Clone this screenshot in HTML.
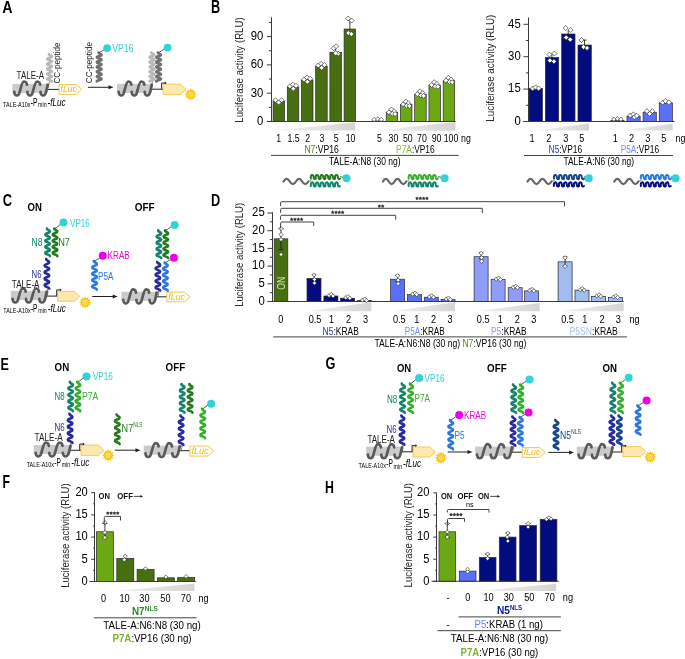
<!DOCTYPE html>
<html><head><meta charset="utf-8"><style>
html,body{margin:0;padding:0;background:#fff;}
svg{display:block;will-change:transform;}
text{font-family:"Liberation Sans",sans-serif;}
</style></head><body>
<svg width="685" height="659" viewBox="0 0 685 659">
<rect width="685" height="659" fill="#fff"/>
<text x="2.3" y="13.3" font-size="17.2" fill="#000" font-weight="bold" textLength="10.3" lengthAdjust="spacingAndGlyphs">A</text>
<text x="210.9" y="12.7" font-size="17.6" fill="#000" font-weight="bold" textLength="9.2" lengthAdjust="spacingAndGlyphs">B</text>
<text x="2.7" y="205.6" font-size="16.8" fill="#000" font-weight="bold" textLength="9.3" lengthAdjust="spacingAndGlyphs">C</text>
<text x="210.9" y="205.9" font-size="17" fill="#000" font-weight="bold" textLength="9.2" lengthAdjust="spacingAndGlyphs">D</text>
<text x="0.4" y="369.6" font-size="17" fill="#000" font-weight="bold" textLength="8.4" lengthAdjust="spacingAndGlyphs">E</text>
<text x="2.6" y="487.7" font-size="17.8" fill="#000" font-weight="bold" textLength="7.5" lengthAdjust="spacingAndGlyphs">F</text>
<text x="325.4" y="369.2" font-size="16.8" fill="#000" font-weight="bold" textLength="9.9" lengthAdjust="spacingAndGlyphs">G</text>
<text x="325.1" y="492.9" font-size="16.8" fill="#000" font-weight="bold" textLength="8.9" lengthAdjust="spacingAndGlyphs">H</text>
<line x1="271.5" y1="17.3" x2="271.5" y2="122" stroke="#3a3a3a" stroke-width="1"/>
<line x1="266.9" y1="121.5" x2="271.5" y2="121.5" stroke="#3a3a3a" stroke-width="1"/>
<text x="263.4" y="124.8" font-size="12.39" text-anchor="end" textLength="6.3" lengthAdjust="spacingAndGlyphs">0</text>
<line x1="266.9" y1="93.2" x2="271.5" y2="93.2" stroke="#3a3a3a" stroke-width="1"/>
<text x="263.4" y="96.5" font-size="12.39" text-anchor="end" textLength="12.6" lengthAdjust="spacingAndGlyphs">30</text>
<line x1="266.9" y1="64.9" x2="271.5" y2="64.9" stroke="#3a3a3a" stroke-width="1"/>
<text x="263.4" y="68.2" font-size="12.39" text-anchor="end" textLength="12.6" lengthAdjust="spacingAndGlyphs">60</text>
<line x1="266.9" y1="36.6" x2="271.5" y2="36.6" stroke="#3a3a3a" stroke-width="1"/>
<text x="263.4" y="39.9" font-size="12.39" text-anchor="end" textLength="12.6" lengthAdjust="spacingAndGlyphs">90</text>
<line x1="268.9" y1="107.35" x2="271.5" y2="107.35" stroke="#3a3a3a" stroke-width="1"/>
<line x1="268.9" y1="79.05" x2="271.5" y2="79.05" stroke="#3a3a3a" stroke-width="1"/>
<line x1="268.9" y1="50.75" x2="271.5" y2="50.75" stroke="#3a3a3a" stroke-width="1"/>
<line x1="268.9" y1="22.45" x2="271.5" y2="22.45" stroke="#3a3a3a" stroke-width="1"/>
<linearGradient id="wg1" x1="0" x2="1" y1="0" y2="0"><stop offset="0" stop-color="#f2f2f2"/><stop offset="1" stop-color="#d4d4d4"/></linearGradient>
<polygon points="274.5,130.6 355.2,122.3 355.2,130.6" fill="url(#wg1)" stroke="none" stroke-width="1"/>
<linearGradient id="wg2" x1="0" x2="1" y1="0" y2="0"><stop offset="0" stop-color="#f2f2f2"/><stop offset="1" stop-color="#d4d4d4"/></linearGradient>
<polygon points="375,130.8 455.5,121.9 455.5,130.8" fill="url(#wg2)" stroke="none" stroke-width="1"/>
<rect x="273.1" y="101.12" width="11.5" height="20.38" fill="#486e12" stroke="#2a2a2a" stroke-width="0.7"/>
<rect x="287.3" y="87.07" width="11.5" height="34.43" fill="#486e12" stroke="#2a2a2a" stroke-width="0.7"/>
<rect x="301.5" y="80.09" width="11.5" height="41.41" fill="#486e12" stroke="#2a2a2a" stroke-width="0.7"/>
<rect x="315.7" y="66.22" width="11.5" height="55.28" fill="#486e12" stroke="#2a2a2a" stroke-width="0.7"/>
<rect x="329.9" y="52.26" width="11.5" height="69.24" fill="#486e12" stroke="#2a2a2a" stroke-width="0.7"/>
<rect x="344.1" y="29.05" width="11.5" height="92.45" fill="#486e12" stroke="#2a2a2a" stroke-width="0.7"/>
<rect x="371.95" y="121.03" width="11.5" height="0.47" fill="#6ca816" stroke="#2a2a2a" stroke-width="0.7"/>
<rect x="386.2" y="112.54" width="11.5" height="8.96" fill="#6ca816" stroke="#2a2a2a" stroke-width="0.7"/>
<rect x="400.45" y="104.52" width="11.5" height="16.98" fill="#6ca816" stroke="#2a2a2a" stroke-width="0.7"/>
<rect x="414.7" y="94.33" width="11.5" height="27.17" fill="#6ca816" stroke="#2a2a2a" stroke-width="0.7"/>
<rect x="428.95" y="85.18" width="11.5" height="36.32" fill="#6ca816" stroke="#2a2a2a" stroke-width="0.7"/>
<rect x="443.2" y="80.75" width="11.5" height="40.75" fill="#6ca816" stroke="#2a2a2a" stroke-width="0.7"/>
<line x1="271.5" y1="121.5" x2="455.6" y2="121.5" stroke="#3a3a3a" stroke-width="1.1"/>
<polygon points="275.55,97.72 278.05,100.22 275.55,102.72 273.05,100.22" fill="#fff" stroke="#222" stroke-width="0.6"/>
<polygon points="278.65,99.92 281.15,102.42 278.65,104.92 276.15,102.42" fill="#fff" stroke="#222" stroke-width="0.6"/>
<polygon points="281.65,97.72 284.15,100.22 281.65,102.72 279.15,100.22" fill="#fff" stroke="#222" stroke-width="0.6"/>
<polygon points="289.85,83.87 292.35,86.37 289.85,88.87 287.35,86.37" fill="#fff" stroke="#222" stroke-width="0.6"/>
<polygon points="292.75,82.07 295.25,84.57 292.75,87.07 290.25,84.57" fill="#fff" stroke="#222" stroke-width="0.6"/>
<polygon points="296.05,83.27 298.55,85.77 296.05,88.27 293.55,85.77" fill="#fff" stroke="#222" stroke-width="0.6"/>
<polygon points="293.25,86.17 295.75,88.67 293.25,91.17 290.75,88.67" fill="#fff" stroke="#222" stroke-width="0.6"/>
<polygon points="304.05,76.89 306.55,79.39 304.05,81.89 301.55,79.39" fill="#fff" stroke="#222" stroke-width="0.6"/>
<polygon points="306.95,75.09 309.45,77.59 306.95,80.09 304.45,77.59" fill="#fff" stroke="#222" stroke-width="0.6"/>
<polygon points="310.25,76.29 312.75,78.79 310.25,81.29 307.75,78.79" fill="#fff" stroke="#222" stroke-width="0.6"/>
<polygon points="307.45,79.19 309.95,81.69 307.45,84.19 304.95,81.69" fill="#fff" stroke="#222" stroke-width="0.6"/>
<polygon points="318.25,63.02 320.75,65.52 318.25,68.02 315.75,65.52" fill="#fff" stroke="#222" stroke-width="0.6"/>
<polygon points="321.15,61.22 323.65,63.72 321.15,66.22 318.65,63.72" fill="#fff" stroke="#222" stroke-width="0.6"/>
<polygon points="324.45,62.42 326.95,64.92 324.45,67.42 321.95,64.92" fill="#fff" stroke="#222" stroke-width="0.6"/>
<polygon points="321.65,65.32 324.15,67.82 321.65,70.32 319.15,67.82" fill="#fff" stroke="#222" stroke-width="0.6"/>
<line x1="335.65" y1="47.26" x2="335.65" y2="52.26" stroke="#111" stroke-width="0.8"/>
<line x1="335.65" y1="47.26" x2="335.65" y2="47.26" stroke="#111" stroke-width="0.8"/>
<line x1="335.65" y1="52.26" x2="335.65" y2="52.26" stroke="#111" stroke-width="0.8"/>
<polygon points="333.65,45.76 336.15,48.26 333.65,50.76 331.15,48.26" fill="#fff" stroke="#222" stroke-width="0.6"/>
<polygon points="336.15,43.76 338.65,46.26 336.15,48.76 333.65,46.26" fill="#fff" stroke="#222" stroke-width="0.6"/>
<polygon points="338.15,51.26 340.65,53.76 338.15,56.26 335.65,53.76" fill="#fff" stroke="#222" stroke-width="0.6"/>
<polygon points="335.65,50.76 338.15,53.26 335.65,55.76 333.15,53.26" fill="#fff" stroke="#222" stroke-width="0.6"/>
<line x1="349.85" y1="20.05" x2="349.85" y2="29.05" stroke="#111" stroke-width="0.8"/>
<line x1="349.85" y1="20.05" x2="349.85" y2="20.05" stroke="#111" stroke-width="0.8"/>
<line x1="349.85" y1="29.05" x2="349.85" y2="29.05" stroke="#111" stroke-width="0.8"/>
<polygon points="348.05,16.05 350.55,18.55 348.05,21.05 345.55,18.55" fill="#fff" stroke="#222" stroke-width="0.6"/>
<polygon points="351.65,18.05 354.15,20.55 351.65,23.05 349.15,20.55" fill="#fff" stroke="#222" stroke-width="0.6"/>
<polygon points="348.35,30.55 350.85,33.05 348.35,35.55 345.85,33.05" fill="#fff" stroke="#222" stroke-width="0.6"/>
<polygon points="351.35,31.55 353.85,34.05 351.35,36.55 348.85,34.05" fill="#fff" stroke="#222" stroke-width="0.6"/>
<polygon points="374.2,117.33 376.4,119.53 374.2,121.73 372,119.53" fill="#fff" stroke="#222" stroke-width="0.6"/>
<polygon points="377.7,116.83 379.9,119.03 377.7,121.23 375.5,119.03" fill="#fff" stroke="#222" stroke-width="0.6"/>
<polygon points="381.2,117.33 383.4,119.53 381.2,121.73 379,119.53" fill="#fff" stroke="#222" stroke-width="0.6"/>
<polygon points="388.95,109.84 391.45,112.34 388.95,114.84 386.45,112.34" fill="#fff" stroke="#222" stroke-width="0.6"/>
<polygon points="391.45,107.04 393.95,109.54 391.45,112.04 388.95,109.54" fill="#fff" stroke="#222" stroke-width="0.6"/>
<polygon points="394.15,108.84 396.65,111.34 394.15,113.84 391.65,111.34" fill="#fff" stroke="#222" stroke-width="0.6"/>
<polygon points="392.45,111.24 394.95,113.74 392.45,116.24 389.95,113.74" fill="#fff" stroke="#222" stroke-width="0.6"/>
<polygon points="395.15,111.54 397.65,114.04 395.15,116.54 392.65,114.04" fill="#fff" stroke="#222" stroke-width="0.6"/>
<polygon points="403.2,101.82 405.7,104.32 403.2,106.82 400.7,104.32" fill="#fff" stroke="#222" stroke-width="0.6"/>
<polygon points="405.7,99.02 408.2,101.52 405.7,104.02 403.2,101.52" fill="#fff" stroke="#222" stroke-width="0.6"/>
<polygon points="408.4,100.82 410.9,103.32 408.4,105.82 405.9,103.32" fill="#fff" stroke="#222" stroke-width="0.6"/>
<polygon points="406.7,103.22 409.2,105.72 406.7,108.22 404.2,105.72" fill="#fff" stroke="#222" stroke-width="0.6"/>
<polygon points="409.4,103.52 411.9,106.02 409.4,108.52 406.9,106.02" fill="#fff" stroke="#222" stroke-width="0.6"/>
<polygon points="417.45,91.63 419.95,94.13 417.45,96.63 414.95,94.13" fill="#fff" stroke="#222" stroke-width="0.6"/>
<polygon points="419.95,88.83 422.45,91.33 419.95,93.83 417.45,91.33" fill="#fff" stroke="#222" stroke-width="0.6"/>
<polygon points="422.65,90.63 425.15,93.13 422.65,95.63 420.15,93.13" fill="#fff" stroke="#222" stroke-width="0.6"/>
<polygon points="420.95,93.03 423.45,95.53 420.95,98.03 418.45,95.53" fill="#fff" stroke="#222" stroke-width="0.6"/>
<polygon points="423.65,93.33 426.15,95.83 423.65,98.33 421.15,95.83" fill="#fff" stroke="#222" stroke-width="0.6"/>
<polygon points="431.7,82.48 434.2,84.98 431.7,87.48 429.2,84.98" fill="#fff" stroke="#222" stroke-width="0.6"/>
<polygon points="434.2,79.68 436.7,82.18 434.2,84.68 431.7,82.18" fill="#fff" stroke="#222" stroke-width="0.6"/>
<polygon points="436.9,81.48 439.4,83.98 436.9,86.48 434.4,83.98" fill="#fff" stroke="#222" stroke-width="0.6"/>
<polygon points="435.2,83.88 437.7,86.38 435.2,88.88 432.7,86.38" fill="#fff" stroke="#222" stroke-width="0.6"/>
<polygon points="437.9,84.18 440.4,86.68 437.9,89.18 435.4,86.68" fill="#fff" stroke="#222" stroke-width="0.6"/>
<polygon points="445.95,78.05 448.45,80.55 445.95,83.05 443.45,80.55" fill="#fff" stroke="#222" stroke-width="0.6"/>
<polygon points="448.45,75.25 450.95,77.75 448.45,80.25 445.95,77.75" fill="#fff" stroke="#222" stroke-width="0.6"/>
<polygon points="451.15,77.05 453.65,79.55 451.15,82.05 448.65,79.55" fill="#fff" stroke="#222" stroke-width="0.6"/>
<polygon points="449.45,79.45 451.95,81.95 449.45,84.45 446.95,81.95" fill="#fff" stroke="#222" stroke-width="0.6"/>
<polygon points="452.15,79.75 454.65,82.25 452.15,84.75 449.65,82.25" fill="#fff" stroke="#222" stroke-width="0.6"/>
<text x="278.6" y="141.9" font-size="10.2" text-anchor="middle" textLength="4.88" lengthAdjust="spacingAndGlyphs">1</text>
<text x="293.6" y="141.9" font-size="10.2" text-anchor="middle" textLength="12.19" lengthAdjust="spacingAndGlyphs">1.5</text>
<text x="307.8" y="141.9" font-size="10.2" text-anchor="middle" textLength="4.88" lengthAdjust="spacingAndGlyphs">2</text>
<text x="322" y="141.9" font-size="10.2" text-anchor="middle" textLength="4.88" lengthAdjust="spacingAndGlyphs">3</text>
<text x="336.2" y="141.9" font-size="10.2" text-anchor="middle" textLength="4.88" lengthAdjust="spacingAndGlyphs">5</text>
<text x="350.6" y="141.9" font-size="10.2" text-anchor="middle" textLength="9.76" lengthAdjust="spacingAndGlyphs">10</text>
<text x="379.4" y="141.9" font-size="10.2" text-anchor="middle" textLength="4.88" lengthAdjust="spacingAndGlyphs">5</text>
<text x="393.4" y="141.9" font-size="10.2" text-anchor="middle" textLength="9.76" lengthAdjust="spacingAndGlyphs">30</text>
<text x="407.8" y="141.9" font-size="10.2" text-anchor="middle" textLength="9.76" lengthAdjust="spacingAndGlyphs">50</text>
<text x="421.9" y="141.9" font-size="10.2" text-anchor="middle" textLength="9.76" lengthAdjust="spacingAndGlyphs">70</text>
<text x="436.6" y="141.9" font-size="10.2" text-anchor="middle" textLength="9.76" lengthAdjust="spacingAndGlyphs">90</text>
<text x="451" y="141.9" font-size="10.2" text-anchor="middle" textLength="14.64" lengthAdjust="spacingAndGlyphs">100</text>
<text x="466" y="141.9" font-size="10.2" text-anchor="middle" textLength="9.76" lengthAdjust="spacingAndGlyphs">ng</text>
<text transform="translate(304.4 153.2) scale(0.8401 1)" font-size="10.2"><tspan fill="#5a8a1e">N7</tspan><tspan>:VP16</tspan></text>
<text transform="translate(396.1 153.2) scale(0.8201 1)" font-size="10.2"><tspan fill="#80b840">P7A</tspan><tspan>:VP16</tspan></text>
<line x1="271" y1="155.4" x2="458.6" y2="155.4" stroke="#444" stroke-width="1"/>
<text x="329" y="164.8" font-size="10.2" textLength="71.5" lengthAdjust="spacingAndGlyphs">TALE-A:N8 (30 ng)</text>
<text x="243.4" y="70" font-size="10.4" fill="#2a2a2a" text-anchor="middle" textLength="105.5" lengthAdjust="spacingAndGlyphs" transform="rotate(-90 243.4 70)">Luciferase activity (RLU)</text>
<line x1="528.5" y1="17.5" x2="528.5" y2="122" stroke="#3a3a3a" stroke-width="1"/>
<line x1="523.5" y1="121.5" x2="528.5" y2="121.5" stroke="#3a3a3a" stroke-width="1"/>
<text x="520.7" y="124.8" font-size="12.39" text-anchor="end" textLength="6.3" lengthAdjust="spacingAndGlyphs">0</text>
<line x1="523.5" y1="89.1" x2="528.5" y2="89.1" stroke="#3a3a3a" stroke-width="1"/>
<text x="520.7" y="92.4" font-size="12.39" text-anchor="end" textLength="12.6" lengthAdjust="spacingAndGlyphs">15</text>
<line x1="523.5" y1="56.7" x2="528.5" y2="56.7" stroke="#3a3a3a" stroke-width="1"/>
<text x="520.7" y="60" font-size="12.39" text-anchor="end" textLength="12.6" lengthAdjust="spacingAndGlyphs">30</text>
<line x1="523.5" y1="24.3" x2="528.5" y2="24.3" stroke="#3a3a3a" stroke-width="1"/>
<text x="520.7" y="27.6" font-size="12.39" text-anchor="end" textLength="12.6" lengthAdjust="spacingAndGlyphs">45</text>
<line x1="525.9" y1="105.3" x2="528.5" y2="105.3" stroke="#3a3a3a" stroke-width="1"/>
<line x1="525.9" y1="72.9" x2="528.5" y2="72.9" stroke="#3a3a3a" stroke-width="1"/>
<line x1="525.9" y1="40.5" x2="528.5" y2="40.5" stroke="#3a3a3a" stroke-width="1"/>
<linearGradient id="wg3" x1="0" x2="1" y1="0" y2="0"><stop offset="0" stop-color="#f2f2f2"/><stop offset="1" stop-color="#d4d4d4"/></linearGradient>
<polygon points="536.5,130.4 589,123.4 589,130.4" fill="url(#wg3)" stroke="none" stroke-width="1"/>
<linearGradient id="wg4" x1="0" x2="1" y1="0" y2="0"><stop offset="0" stop-color="#f2f2f2"/><stop offset="1" stop-color="#d4d4d4"/></linearGradient>
<polygon points="620,130.4 672.6,123.8 672.6,130.4" fill="url(#wg4)" stroke="none" stroke-width="1"/>
<rect x="529.1" y="88.45" width="13.3" height="33.05" fill="#020c7e" stroke="#2a2a2a" stroke-width="0.7"/>
<rect x="545.4" y="57.56" width="13.3" height="63.94" fill="#020c7e" stroke="#2a2a2a" stroke-width="0.7"/>
<rect x="561.7" y="34.02" width="13.3" height="87.48" fill="#020c7e" stroke="#2a2a2a" stroke-width="0.7"/>
<rect x="578" y="45.04" width="13.3" height="76.46" fill="#020c7e" stroke="#2a2a2a" stroke-width="0.7"/>
<rect x="610.8" y="120.42" width="13.2" height="1.08" fill="#5a70fa" stroke="#2a2a2a" stroke-width="0.7"/>
<rect x="626.95" y="116.53" width="13.2" height="4.97" fill="#5a70fa" stroke="#2a2a2a" stroke-width="0.7"/>
<rect x="643.1" y="112.21" width="13.2" height="9.29" fill="#5a70fa" stroke="#2a2a2a" stroke-width="0.7"/>
<rect x="659.25" y="102.92" width="13.2" height="18.58" fill="#5a70fa" stroke="#2a2a2a" stroke-width="0.7"/>
<line x1="523.4" y1="121.5" x2="674.4" y2="121.5" stroke="#3a3a3a" stroke-width="1.1"/>
<polygon points="532.6,85.95 535.1,88.45 532.6,90.95 530.1,88.45" fill="#fff" stroke="#222" stroke-width="0.6"/>
<polygon points="535.6,84.95 538.1,87.45 535.6,89.95 533.1,87.45" fill="#fff" stroke="#222" stroke-width="0.6"/>
<polygon points="538.6,85.95 541.1,88.45 538.6,90.95 536.1,88.45" fill="#fff" stroke="#222" stroke-width="0.6"/>
<line x1="551.9" y1="53.56" x2="551.9" y2="60.56" stroke="#111" stroke-width="0.8"/>
<line x1="551.9" y1="53.56" x2="551.9" y2="53.56" stroke="#111" stroke-width="0.8"/>
<line x1="551.9" y1="60.56" x2="551.9" y2="60.56" stroke="#111" stroke-width="0.8"/>
<polygon points="549.4,52.06 551.9,54.56 549.4,57.06 546.9,54.56" fill="#fff" stroke="#222" stroke-width="0.6"/>
<polygon points="554.4,51.06 556.9,53.56 554.4,56.06 551.9,53.56" fill="#fff" stroke="#222" stroke-width="0.6"/>
<polygon points="549.9,58.06 552.4,60.56 549.9,63.06 547.4,60.56" fill="#fff" stroke="#222" stroke-width="0.6"/>
<polygon points="553.9,59.06 556.4,61.56 553.9,64.06 551.4,61.56" fill="#fff" stroke="#222" stroke-width="0.6"/>
<line x1="568.2" y1="30.02" x2="568.2" y2="37.02" stroke="#111" stroke-width="0.8"/>
<line x1="568.2" y1="30.02" x2="568.2" y2="30.02" stroke="#111" stroke-width="0.8"/>
<line x1="568.2" y1="37.02" x2="568.2" y2="37.02" stroke="#111" stroke-width="0.8"/>
<polygon points="565.7,25.52 568.2,28.02 565.7,30.52 563.2,28.02" fill="#fff" stroke="#222" stroke-width="0.6"/>
<polygon points="570.7,27.52 573.2,30.02 570.7,32.52 568.2,30.02" fill="#fff" stroke="#222" stroke-width="0.6"/>
<polygon points="566.2,35.02 568.7,37.52 566.2,40.02 563.7,37.52" fill="#fff" stroke="#222" stroke-width="0.6"/>
<polygon points="570.2,37.02 572.7,39.52 570.2,42.02 567.7,39.52" fill="#fff" stroke="#222" stroke-width="0.6"/>
<line x1="584.5" y1="40.04" x2="584.5" y2="48.04" stroke="#111" stroke-width="0.8"/>
<line x1="582.5" y1="40.04" x2="586.5" y2="40.04" stroke="#111" stroke-width="0.8"/>
<line x1="582.5" y1="48.04" x2="586.5" y2="48.04" stroke="#111" stroke-width="0.8"/>
<polygon points="581.5,37.54 584,40.04 581.5,42.54 579,40.04" fill="#fff" stroke="#222" stroke-width="0.6"/>
<polygon points="583.5,44.54 586,47.04 583.5,49.54 581,47.04" fill="#fff" stroke="#222" stroke-width="0.6"/>
<polygon points="587,45.54 589.5,48.04 587,50.54 584.5,48.04" fill="#fff" stroke="#222" stroke-width="0.6"/>
<polygon points="613.9,117.02 616.1,119.22 613.9,121.42 611.7,119.22" fill="#fff" stroke="#222" stroke-width="0.6"/>
<polygon points="617.4,116.62 619.6,118.82 617.4,121.02 615.2,118.82" fill="#fff" stroke="#222" stroke-width="0.6"/>
<polygon points="620.9,117.02 623.1,119.22 620.9,121.42 618.7,119.22" fill="#fff" stroke="#222" stroke-width="0.6"/>
<polygon points="630.35,113.03 632.85,115.53 630.35,118.03 627.85,115.53" fill="#fff" stroke="#222" stroke-width="0.6"/>
<polygon points="633.35,111.83 635.85,114.33 633.35,116.83 630.85,114.33" fill="#fff" stroke="#222" stroke-width="0.6"/>
<polygon points="634.35,114.63 636.85,117.13 634.35,119.63 631.85,117.13" fill="#fff" stroke="#222" stroke-width="0.6"/>
<polygon points="636.75,113.23 639.25,115.73 636.75,118.23 634.25,115.73" fill="#fff" stroke="#222" stroke-width="0.6"/>
<polygon points="646.9,108.71 649.4,111.21 646.9,113.71 644.4,111.21" fill="#fff" stroke="#222" stroke-width="0.6"/>
<polygon points="652.3,108.71 654.8,111.21 652.3,113.71 649.8,111.21" fill="#fff" stroke="#222" stroke-width="0.6"/>
<polygon points="649.7,111.31 652.2,113.81 649.7,116.31 647.2,113.81" fill="#fff" stroke="#222" stroke-width="0.6"/>
<polygon points="662.65,100.12 665.15,102.62 662.65,105.12 660.15,102.62" fill="#fff" stroke="#222" stroke-width="0.6"/>
<polygon points="665.65,98.62 668.15,101.12 665.65,103.62 663.15,101.12" fill="#fff" stroke="#222" stroke-width="0.6"/>
<polygon points="668.85,99.92 671.35,102.42 668.85,104.92 666.35,102.42" fill="#fff" stroke="#222" stroke-width="0.6"/>
<text x="532.1" y="141.9" font-size="10.2" text-anchor="middle" textLength="5.11" lengthAdjust="spacingAndGlyphs">1</text>
<text x="548.9" y="141.9" font-size="10.2" text-anchor="middle" textLength="5.11" lengthAdjust="spacingAndGlyphs">2</text>
<text x="565.7" y="141.9" font-size="10.2" text-anchor="middle" textLength="5.11" lengthAdjust="spacingAndGlyphs">3</text>
<text x="581.8" y="141.9" font-size="10.2" text-anchor="middle" textLength="5.11" lengthAdjust="spacingAndGlyphs">5</text>
<text x="615.3" y="141.9" font-size="10.2" text-anchor="middle" textLength="5.11" lengthAdjust="spacingAndGlyphs">1</text>
<text x="631.5" y="141.9" font-size="10.2" text-anchor="middle" textLength="5.11" lengthAdjust="spacingAndGlyphs">2</text>
<text x="647.9" y="141.9" font-size="10.2" text-anchor="middle" textLength="5.11" lengthAdjust="spacingAndGlyphs">3</text>
<text x="663.8" y="141.9" font-size="10.2" text-anchor="middle" textLength="5.11" lengthAdjust="spacingAndGlyphs">5</text>
<text x="680.5" y="141.9" font-size="10.2" text-anchor="middle" textLength="9.76" lengthAdjust="spacingAndGlyphs">ng</text>
<text transform="translate(548.6 153.4) scale(0.8205 1)" font-size="10.2"><tspan fill="#2a3aa8">N5</tspan><tspan>:VP16</tspan></text>
<text transform="translate(620.7 153.4) scale(0.8159 1)" font-size="10.2"><tspan fill="#7a8cf8">P5A</tspan><tspan>:VP16</tspan></text>
<line x1="524" y1="155.5" x2="672.9" y2="155.5" stroke="#444" stroke-width="1"/>
<text x="563.5" y="164.6" font-size="10.2" textLength="70.5" lengthAdjust="spacingAndGlyphs">TALE-A:N6 (30 ng)</text>
<text x="493.8" y="68.2" font-size="10.4" fill="#2a2a2a" text-anchor="middle" textLength="107" lengthAdjust="spacingAndGlyphs" transform="rotate(-90 493.8 68.2)">Luciferase activity (RLU)</text>
<path d="M283.5 181.5 Q286.61 176.1 289.73 181.5 Q292.84 186.9 295.95 181.5 Q299.06 176.1 302.17 181.5 Q305.29 186.9 308.4 181.5" stroke="#666" stroke-width="2.2" fill="none" stroke-linecap="round"/>
<line x1="308.4" y1="181.5" x2="311.4" y2="180.5" stroke="#666" stroke-width="0.8"/>
<path d="M310.9 178.6 C310.17 174 313.57 174 313.57 177 C313.57 179.6 315.26 179.4 315.75 178.6 C315.02 174 318.42 174 318.42 177 C318.42 179.6 320.12 179.4 320.6 178.6 C319.87 174 323.27 174 323.27 177 C323.27 179.6 324.97 179.4 325.45 178.6 C324.72 174 328.12 174 328.12 177 C328.12 179.6 329.82 179.4 330.3 178.6 C329.57 174 332.97 174 332.97 177 C332.97 179.6 334.67 179.4 335.15 178.6 C334.42 174 337.82 174 337.82 177 C337.82 179.6 339.52 179.4 340 178.6" stroke="#257a1e" stroke-width="2" fill="none" stroke-linecap="round" stroke-linejoin="round"/>
<path d="M310.9 186 C310.17 181.4 313.57 181.4 313.57 184.4 C313.57 187 315.26 186.8 315.75 186 C315.02 181.4 318.42 181.4 318.42 184.4 C318.42 187 320.12 186.8 320.6 186 C319.87 181.4 323.27 181.4 323.27 184.4 C323.27 187 324.97 186.8 325.45 186 C324.72 181.4 328.12 181.4 328.12 184.4 C328.12 187 329.82 186.8 330.3 186 C329.57 181.4 332.97 181.4 332.97 184.4 C332.97 187 334.67 186.8 335.15 186 C334.42 181.4 337.82 181.4 337.82 184.4 C337.82 187 339.52 186.8 340 186" stroke="#14846a" stroke-width="2" fill="none" stroke-linecap="round" stroke-linejoin="round"/>
<line x1="340" y1="176.6" x2="343.5" y2="177.5" stroke="#333" stroke-width="0.8"/>
<circle cx="346.5" cy="178.2" r="4" fill="#2fd3d8" stroke="none" stroke-width="1"/>
<path d="M382.9 181.5 Q385.81 176.1 388.72 181.5 Q391.64 186.9 394.55 181.5 Q397.46 176.1 400.37 181.5 Q403.29 186.9 406.2 181.5" stroke="#666" stroke-width="2.2" fill="none" stroke-linecap="round"/>
<line x1="406.2" y1="181.5" x2="409.2" y2="180.5" stroke="#666" stroke-width="0.8"/>
<path d="M408.7 178.6 C407.97 174 411.38 174 411.38 177 C411.38 179.6 413.08 179.4 413.57 178.6 C412.84 174 416.24 174 416.24 177 C416.24 179.6 417.95 179.4 418.43 178.6 C417.7 174 421.11 174 421.11 177 C421.11 179.6 422.81 179.4 423.3 178.6 C422.57 174 425.98 174 425.98 177 C425.98 179.6 427.68 179.4 428.17 178.6 C427.44 174 430.84 174 430.84 177 C430.84 179.6 432.55 179.4 433.03 178.6 C432.3 174 435.71 174 435.71 177 C435.71 179.6 437.41 179.4 437.9 178.6" stroke="#34b02a" stroke-width="2" fill="none" stroke-linecap="round" stroke-linejoin="round"/>
<path d="M408.7 186 C407.97 181.4 411.38 181.4 411.38 184.4 C411.38 187 413.08 186.8 413.57 186 C412.84 181.4 416.24 181.4 416.24 184.4 C416.24 187 417.95 186.8 418.43 186 C417.7 181.4 421.11 181.4 421.11 184.4 C421.11 187 422.81 186.8 423.3 186 C422.57 181.4 425.98 181.4 425.98 184.4 C425.98 187 427.68 186.8 428.17 186 C427.44 181.4 430.84 181.4 430.84 184.4 C430.84 187 432.55 186.8 433.03 186 C432.3 181.4 435.71 181.4 435.71 184.4 C435.71 187 437.41 186.8 437.9 186" stroke="#14846a" stroke-width="2" fill="none" stroke-linecap="round" stroke-linejoin="round"/>
<line x1="437.9" y1="176.6" x2="441.6" y2="177.5" stroke="#333" stroke-width="0.8"/>
<circle cx="444.6" cy="178.2" r="4" fill="#2fd3d8" stroke="none" stroke-width="1"/>
<path d="M527.5 181.5 Q530.5 176.1 533.5 181.5 Q536.5 186.9 539.5 181.5 Q542.5 176.1 545.5 181.5 Q548.5 186.9 551.5 181.5" stroke="#666" stroke-width="2.2" fill="none" stroke-linecap="round"/>
<line x1="551.5" y1="181.5" x2="554.5" y2="180.5" stroke="#666" stroke-width="0.8"/>
<path d="M554 178.6 C553.25 174 556.75 174 556.75 177 C556.75 179.6 558.5 179.4 559 178.6 C558.25 174 561.75 174 561.75 177 C561.75 179.6 563.5 179.4 564 178.6 C563.25 174 566.75 174 566.75 177 C566.75 179.6 568.5 179.4 569 178.6 C568.25 174 571.75 174 571.75 177 C571.75 179.6 573.5 179.4 574 178.6 C573.25 174 576.75 174 576.75 177 C576.75 179.6 578.5 179.4 579 178.6 C578.25 174 581.75 174 581.75 177 C581.75 179.6 583.5 179.4 584 178.6" stroke="#17478a" stroke-width="2" fill="none" stroke-linecap="round" stroke-linejoin="round"/>
<path d="M554 186 C553.25 181.4 556.75 181.4 556.75 184.4 C556.75 187 558.5 186.8 559 186 C558.25 181.4 561.75 181.4 561.75 184.4 C561.75 187 563.5 186.8 564 186 C563.25 181.4 566.75 181.4 566.75 184.4 C566.75 187 568.5 186.8 569 186 C568.25 181.4 571.75 181.4 571.75 184.4 C571.75 187 573.5 186.8 574 186 C573.25 181.4 576.75 181.4 576.75 184.4 C576.75 187 578.5 186.8 579 186 C578.25 181.4 581.75 181.4 581.75 184.4 C581.75 187 583.5 186.8 584 186" stroke="#020c7e" stroke-width="2" fill="none" stroke-linecap="round" stroke-linejoin="round"/>
<line x1="584" y1="176.6" x2="585.8" y2="177.5" stroke="#333" stroke-width="0.8"/>
<circle cx="588.8" cy="178.2" r="4" fill="#2fd3d8" stroke="none" stroke-width="1"/>
<path d="M614.3 181.5 Q617.31 176.1 620.32 181.5 Q623.34 186.9 626.35 181.5 Q629.36 176.1 632.37 181.5 Q635.39 186.9 638.4 181.5" stroke="#666" stroke-width="2.2" fill="none" stroke-linecap="round"/>
<line x1="638.4" y1="181.5" x2="641.4" y2="180.5" stroke="#666" stroke-width="0.8"/>
<path d="M640.9 178.6 C640.15 174 643.64 174 643.64 177 C643.64 179.6 645.38 179.4 645.88 178.6 C645.14 174 648.62 174 648.62 177 C648.62 179.6 650.37 179.4 650.87 178.6 C650.12 174 653.61 174 653.61 177 C653.61 179.6 655.35 179.4 655.85 178.6 C655.1 174 658.59 174 658.59 177 C658.59 179.6 660.34 179.4 660.83 178.6 C660.09 174 663.57 174 663.57 177 C663.57 179.6 665.32 179.4 665.82 178.6 C665.07 174 668.56 174 668.56 177 C668.56 179.6 670.3 179.4 670.8 178.6" stroke="#2a78dc" stroke-width="2" fill="none" stroke-linecap="round" stroke-linejoin="round"/>
<path d="M640.9 186 C640.15 181.4 643.64 181.4 643.64 184.4 C643.64 187 645.38 186.8 645.88 186 C645.14 181.4 648.62 181.4 648.62 184.4 C648.62 187 650.37 186.8 650.87 186 C650.12 181.4 653.61 181.4 653.61 184.4 C653.61 187 655.35 186.8 655.85 186 C655.1 181.4 658.59 181.4 658.59 184.4 C658.59 187 660.34 186.8 660.83 186 C660.09 181.4 663.57 181.4 663.57 184.4 C663.57 187 665.32 186.8 665.82 186 C665.07 181.4 668.56 181.4 668.56 184.4 C668.56 187 670.3 186.8 670.8 186" stroke="#020c7e" stroke-width="2" fill="none" stroke-linecap="round" stroke-linejoin="round"/>
<line x1="670.8" y1="176.6" x2="672.6" y2="177.5" stroke="#333" stroke-width="0.8"/>
<circle cx="675.6" cy="178.2" r="4" fill="#2fd3d8" stroke="none" stroke-width="1"/>
<line x1="272.5" y1="212.3" x2="272.5" y2="302" stroke="#3a3a3a" stroke-width="1"/>
<line x1="267.5" y1="301.5" x2="272.5" y2="301.5" stroke="#3a3a3a" stroke-width="1"/>
<text x="264.7" y="304.8" font-size="12.39" text-anchor="end" textLength="6.3" lengthAdjust="spacingAndGlyphs">0</text>
<line x1="267.5" y1="283.8" x2="272.5" y2="283.8" stroke="#3a3a3a" stroke-width="1"/>
<text x="264.7" y="287.1" font-size="12.39" text-anchor="end" textLength="6.3" lengthAdjust="spacingAndGlyphs">5</text>
<line x1="267.5" y1="266.1" x2="272.5" y2="266.1" stroke="#3a3a3a" stroke-width="1"/>
<text x="264.7" y="269.4" font-size="12.39" text-anchor="end" textLength="12.6" lengthAdjust="spacingAndGlyphs">10</text>
<line x1="267.5" y1="248.4" x2="272.5" y2="248.4" stroke="#3a3a3a" stroke-width="1"/>
<text x="264.7" y="251.7" font-size="12.39" text-anchor="end" textLength="12.6" lengthAdjust="spacingAndGlyphs">15</text>
<line x1="267.5" y1="230.7" x2="272.5" y2="230.7" stroke="#3a3a3a" stroke-width="1"/>
<text x="264.7" y="234" font-size="12.39" text-anchor="end" textLength="12.6" lengthAdjust="spacingAndGlyphs">20</text>
<line x1="267.5" y1="213" x2="272.5" y2="213" stroke="#3a3a3a" stroke-width="1"/>
<text x="264.7" y="216.3" font-size="12.39" text-anchor="end" textLength="12.6" lengthAdjust="spacingAndGlyphs">25</text>
<line x1="269.9" y1="292.65" x2="272.5" y2="292.65" stroke="#3a3a3a" stroke-width="1"/>
<line x1="269.9" y1="274.95" x2="272.5" y2="274.95" stroke="#3a3a3a" stroke-width="1"/>
<line x1="269.9" y1="257.25" x2="272.5" y2="257.25" stroke="#3a3a3a" stroke-width="1"/>
<line x1="269.9" y1="239.55" x2="272.5" y2="239.55" stroke="#3a3a3a" stroke-width="1"/>
<line x1="269.9" y1="221.85" x2="272.5" y2="221.85" stroke="#3a3a3a" stroke-width="1"/>
<linearGradient id="wg5" x1="0" x2="1" y1="0" y2="0"><stop offset="0" stop-color="#f2f2f2"/><stop offset="1" stop-color="#d4d4d4"/></linearGradient>
<polygon points="307,311.2 371.3,302.3 371.3,311.2" fill="url(#wg5)" stroke="none" stroke-width="1"/>
<linearGradient id="wg6" x1="0" x2="1" y1="0" y2="0"><stop offset="0" stop-color="#f2f2f2"/><stop offset="1" stop-color="#d4d4d4"/></linearGradient>
<polygon points="392,311.2 455,302.3 455,311.2" fill="url(#wg6)" stroke="none" stroke-width="1"/>
<linearGradient id="wg7" x1="0" x2="1" y1="0" y2="0"><stop offset="0" stop-color="#f2f2f2"/><stop offset="1" stop-color="#d4d4d4"/></linearGradient>
<polygon points="476,311.2 539.7,303 539.7,311.2" fill="url(#wg7)" stroke="none" stroke-width="1"/>
<linearGradient id="wg8" x1="0" x2="1" y1="0" y2="0"><stop offset="0" stop-color="#f2f2f2"/><stop offset="1" stop-color="#d4d4d4"/></linearGradient>
<polygon points="560,311.2 623.7,303 623.7,311.2" fill="url(#wg8)" stroke="none" stroke-width="1"/>
<rect x="274.2" y="238.84" width="13.6" height="62.66" fill="#486e12" stroke="#2a2a2a" stroke-width="0.7"/>
<rect x="307" y="278.49" width="14" height="23.01" fill="#020c7e" stroke="#2a2a2a" stroke-width="0.7"/>
<rect x="323.9" y="296.01" width="14" height="5.49" fill="#020c7e" stroke="#2a2a2a" stroke-width="0.7"/>
<rect x="340.6" y="298.21" width="14" height="3.29" fill="#020c7e" stroke="#2a2a2a" stroke-width="0.7"/>
<rect x="357.3" y="300.62" width="14" height="0.89" fill="#020c7e" stroke="#2a2a2a" stroke-width="0.7"/>
<rect x="390.6" y="279.2" width="14" height="22.3" fill="#5a70fa" stroke="#2a2a2a" stroke-width="0.7"/>
<rect x="407.5" y="294.6" width="14" height="6.9" fill="#5a70fa" stroke="#2a2a2a" stroke-width="0.7"/>
<rect x="424.3" y="297.25" width="14" height="4.25" fill="#5a70fa" stroke="#2a2a2a" stroke-width="0.7"/>
<rect x="441" y="299.55" width="14" height="1.95" fill="#5a70fa" stroke="#2a2a2a" stroke-width="0.7"/>
<rect x="474.1" y="256.72" width="14" height="44.78" fill="#8e9cfc" stroke="#2a2a2a" stroke-width="0.7"/>
<rect x="491.1" y="279.55" width="14" height="21.95" fill="#8e9cfc" stroke="#2a2a2a" stroke-width="0.7"/>
<rect x="508.2" y="287.69" width="14" height="13.81" fill="#8e9cfc" stroke="#2a2a2a" stroke-width="0.7"/>
<rect x="524.6" y="290.88" width="14" height="10.62" fill="#8e9cfc" stroke="#2a2a2a" stroke-width="0.7"/>
<rect x="558.1" y="261.85" width="14" height="39.65" fill="#a0bcf0" stroke="#2a2a2a" stroke-width="0.7"/>
<rect x="575" y="290.17" width="14" height="11.33" fill="#a0bcf0" stroke="#2a2a2a" stroke-width="0.7"/>
<rect x="591.6" y="296.37" width="14" height="5.13" fill="#a0bcf0" stroke="#2a2a2a" stroke-width="0.7"/>
<rect x="608.4" y="297.43" width="14" height="4.07" fill="#a0bcf0" stroke="#2a2a2a" stroke-width="0.7"/>
<line x1="268" y1="301.5" x2="623.7" y2="301.5" stroke="#3a3a3a" stroke-width="1.1"/>
<text x="284.6" y="283.3" font-size="10.5" fill="#d8e8c0" text-anchor="middle" textLength="13" lengthAdjust="spacingAndGlyphs" transform="rotate(-90 284.6 283.3)">ON</text>
<line x1="281" y1="228.7" x2="281" y2="249.6" stroke="#111" stroke-width="0.8"/>
<line x1="278.5" y1="228.7" x2="283.5" y2="228.7" stroke="#111" stroke-width="0.8"/>
<line x1="278.5" y1="249.6" x2="283.5" y2="249.6" stroke="#111" stroke-width="0.8"/>
<polygon points="281,226.4 283.1,228.5 281,230.6 278.9,228.5" fill="#fff" stroke="#222" stroke-width="0.6"/>
<polygon points="281,232.4 283.1,234.5 281,236.6 278.9,234.5" fill="#fff" stroke="#222" stroke-width="0.6"/>
<polygon points="281,237.4 283.1,239.5 281,241.6 278.9,239.5" fill="#fff" stroke="#222" stroke-width="0.6"/>
<polygon points="281,252.4 283.1,254.5 281,256.6 278.9,254.5" fill="#fff" stroke="#222" stroke-width="0.6"/>
<line x1="314" y1="274.49" x2="314" y2="280.49" stroke="#111" stroke-width="0.8"/>
<line x1="311.8" y1="274.49" x2="316.2" y2="274.49" stroke="#111" stroke-width="0.8"/>
<line x1="311.8" y1="280.49" x2="316.2" y2="280.49" stroke="#111" stroke-width="0.8"/>
<polygon points="314,272.89 316.1,274.99 314,277.09 311.9,274.99" fill="#fff" stroke="#222" stroke-width="0.6"/>
<polygon points="314.5,277.39 316.6,279.49 314.5,281.59 312.4,279.49" fill="#fff" stroke="#222" stroke-width="0.6"/>
<polygon points="314.5,280.89 316.6,282.99 314.5,285.09 312.4,282.99" fill="#fff" stroke="#222" stroke-width="0.6"/>
<polygon points="329.1,293.41 331.2,295.51 329.1,297.61 327,295.51" fill="#fff" stroke="#222" stroke-width="0.6"/>
<polygon points="331.4,292.41 333.5,294.51 331.4,296.61 329.3,294.51" fill="#fff" stroke="#222" stroke-width="0.6"/>
<polygon points="333.1,293.91 335.2,296.01 333.1,298.11 331,296.01" fill="#fff" stroke="#222" stroke-width="0.6"/>
<polygon points="345.8,295.61 347.9,297.71 345.8,299.81 343.7,297.71" fill="#fff" stroke="#222" stroke-width="0.6"/>
<polygon points="348.1,294.61 350.2,296.71 348.1,298.81 346,296.71" fill="#fff" stroke="#222" stroke-width="0.6"/>
<polygon points="349.8,296.11 351.9,298.21 349.8,300.31 347.7,298.21" fill="#fff" stroke="#222" stroke-width="0.6"/>
<polygon points="362.5,298.01 364.6,300.12 362.5,302.22 360.4,300.12" fill="#fff" stroke="#222" stroke-width="0.6"/>
<polygon points="364.8,297.01 366.9,299.12 364.8,301.22 362.7,299.12" fill="#fff" stroke="#222" stroke-width="0.6"/>
<polygon points="366.5,298.51 368.6,300.62 366.5,302.72 364.4,300.62" fill="#fff" stroke="#222" stroke-width="0.6"/>
<line x1="397.6" y1="275.2" x2="397.6" y2="281.2" stroke="#111" stroke-width="0.8"/>
<line x1="395.4" y1="275.2" x2="399.8" y2="275.2" stroke="#111" stroke-width="0.8"/>
<line x1="395.4" y1="281.2" x2="399.8" y2="281.2" stroke="#111" stroke-width="0.8"/>
<polygon points="397.6,273.6 399.7,275.7 397.6,277.8 395.5,275.7" fill="#fff" stroke="#222" stroke-width="0.6"/>
<polygon points="398.1,278.1 400.2,280.2 398.1,282.3 396,280.2" fill="#fff" stroke="#222" stroke-width="0.6"/>
<polygon points="398.1,281.6 400.2,283.7 398.1,285.8 396,283.7" fill="#fff" stroke="#222" stroke-width="0.6"/>
<polygon points="412.7,292 414.8,294.1 412.7,296.2 410.6,294.1" fill="#fff" stroke="#222" stroke-width="0.6"/>
<polygon points="415,291 417.1,293.1 415,295.2 412.9,293.1" fill="#fff" stroke="#222" stroke-width="0.6"/>
<polygon points="416.7,292.5 418.8,294.6 416.7,296.7 414.6,294.6" fill="#fff" stroke="#222" stroke-width="0.6"/>
<polygon points="429.5,294.65 431.6,296.75 429.5,298.85 427.4,296.75" fill="#fff" stroke="#222" stroke-width="0.6"/>
<polygon points="431.8,293.65 433.9,295.75 431.8,297.85 429.7,295.75" fill="#fff" stroke="#222" stroke-width="0.6"/>
<polygon points="433.5,295.15 435.6,297.25 433.5,299.35 431.4,297.25" fill="#fff" stroke="#222" stroke-width="0.6"/>
<polygon points="446.2,296.95 448.3,299.05 446.2,301.15 444.1,299.05" fill="#fff" stroke="#222" stroke-width="0.6"/>
<polygon points="448.5,295.95 450.6,298.05 448.5,300.15 446.4,298.05" fill="#fff" stroke="#222" stroke-width="0.6"/>
<polygon points="450.2,297.45 452.3,299.55 450.2,301.65 448.1,299.55" fill="#fff" stroke="#222" stroke-width="0.6"/>
<line x1="481.1" y1="252.72" x2="481.1" y2="258.72" stroke="#111" stroke-width="0.8"/>
<line x1="478.9" y1="252.72" x2="483.3" y2="252.72" stroke="#111" stroke-width="0.8"/>
<line x1="478.9" y1="258.72" x2="483.3" y2="258.72" stroke="#111" stroke-width="0.8"/>
<polygon points="481.1,251.12 483.2,253.22 481.1,255.32 479,253.22" fill="#fff" stroke="#222" stroke-width="0.6"/>
<polygon points="481.6,255.62 483.7,257.72 481.6,259.82 479.5,257.72" fill="#fff" stroke="#222" stroke-width="0.6"/>
<polygon points="481.6,259.12 483.7,261.22 481.6,263.32 479.5,261.22" fill="#fff" stroke="#222" stroke-width="0.6"/>
<polygon points="496.3,276.95 498.4,279.05 496.3,281.15 494.2,279.05" fill="#fff" stroke="#222" stroke-width="0.6"/>
<polygon points="498.6,275.95 500.7,278.05 498.6,280.15 496.5,278.05" fill="#fff" stroke="#222" stroke-width="0.6"/>
<polygon points="500.3,277.45 502.4,279.55 500.3,281.65 498.2,279.55" fill="#fff" stroke="#222" stroke-width="0.6"/>
<polygon points="513.4,285.09 515.5,287.19 513.4,289.29 511.3,287.19" fill="#fff" stroke="#222" stroke-width="0.6"/>
<polygon points="515.7,284.09 517.8,286.19 515.7,288.29 513.6,286.19" fill="#fff" stroke="#222" stroke-width="0.6"/>
<polygon points="517.4,285.59 519.5,287.69 517.4,289.79 515.3,287.69" fill="#fff" stroke="#222" stroke-width="0.6"/>
<polygon points="529.8,288.28 531.9,290.38 529.8,292.48 527.7,290.38" fill="#fff" stroke="#222" stroke-width="0.6"/>
<polygon points="532.1,287.28 534.2,289.38 532.1,291.48 530,289.38" fill="#fff" stroke="#222" stroke-width="0.6"/>
<polygon points="533.8,288.78 535.9,290.88 533.8,292.98 531.7,290.88" fill="#fff" stroke="#222" stroke-width="0.6"/>
<line x1="565.1" y1="256.85" x2="565.1" y2="265.85" stroke="#111" stroke-width="0.8"/>
<line x1="562.9" y1="256.85" x2="567.3" y2="256.85" stroke="#111" stroke-width="0.8"/>
<line x1="562.9" y1="265.85" x2="567.3" y2="265.85" stroke="#111" stroke-width="0.8"/>
<polygon points="565.1,255.75 567.2,257.85 565.1,259.95 563,257.85" fill="#fff" stroke="#222" stroke-width="0.6"/>
<polygon points="565.1,264.25 567.2,266.35 565.1,268.45 563,266.35" fill="#fff" stroke="#222" stroke-width="0.6"/>
<polygon points="580.2,287.57 582.3,289.67 580.2,291.77 578.1,289.67" fill="#fff" stroke="#222" stroke-width="0.6"/>
<polygon points="582.5,286.57 584.6,288.67 582.5,290.77 580.4,288.67" fill="#fff" stroke="#222" stroke-width="0.6"/>
<polygon points="584.2,288.07 586.3,290.17 584.2,292.27 582.1,290.17" fill="#fff" stroke="#222" stroke-width="0.6"/>
<polygon points="596.8,293.77 598.9,295.87 596.8,297.97 594.7,295.87" fill="#fff" stroke="#222" stroke-width="0.6"/>
<polygon points="599.1,292.77 601.2,294.87 599.1,296.97 597,294.87" fill="#fff" stroke="#222" stroke-width="0.6"/>
<polygon points="600.8,294.27 602.9,296.37 600.8,298.47 598.7,296.37" fill="#fff" stroke="#222" stroke-width="0.6"/>
<polygon points="613.6,294.83 615.7,296.93 613.6,299.03 611.5,296.93" fill="#fff" stroke="#222" stroke-width="0.6"/>
<polygon points="615.9,293.83 618,295.93 615.9,298.03 613.8,295.93" fill="#fff" stroke="#222" stroke-width="0.6"/>
<polygon points="617.6,295.33 619.7,297.43 617.6,299.53 615.5,297.43" fill="#fff" stroke="#222" stroke-width="0.6"/>
<path d="M280.6 206.2 L280.6 202.9 Q280.6 201.7 281.8 201.7 L564.5 201.7 L564.5 206.4" stroke="#444" stroke-width="1" fill="none"/>
<path d="M280.6 212.8 L280.6 209.5 Q280.6 208.3 281.8 208.3 L482.3 208.3 L482.3 213.2" stroke="#444" stroke-width="1" fill="none"/>
<path d="M280.6 219.8 L280.6 216.5 Q280.6 215.3 281.8 215.3 L395.7 215.3 L395.7 219.6" stroke="#444" stroke-width="1" fill="none"/>
<path d="M280.6 228.5 L280.6 223.2 Q280.6 222 281.8 222 L313.7 222 L313.7 226" stroke="#444" stroke-width="1" fill="none"/>
<polygon points="291.65,217.35 292.3,218.46 293.55,218.73 292.7,219.69 292.83,220.97 291.65,220.45 290.47,220.97 290.6,219.69 289.75,218.73 291,218.46" fill="#333" stroke="none" stroke-width="1"/>
<polygon points="294.95,217.35 295.6,218.46 296.85,218.73 296,219.69 296.13,220.97 294.95,220.45 293.77,220.97 293.9,219.69 293.05,218.73 294.3,218.46" fill="#333" stroke="none" stroke-width="1"/>
<polygon points="298.25,217.35 298.9,218.46 300.15,218.73 299.3,219.69 299.43,220.97 298.25,220.45 297.07,220.97 297.2,219.69 296.35,218.73 297.6,218.46" fill="#333" stroke="none" stroke-width="1"/>
<polygon points="301.55,217.35 302.2,218.46 303.45,218.73 302.6,219.69 302.73,220.97 301.55,220.45 300.37,220.97 300.5,219.69 299.65,218.73 300.9,218.46" fill="#333" stroke="none" stroke-width="1"/>
<polygon points="332.75,210.35 333.4,211.46 334.65,211.73 333.8,212.69 333.93,213.97 332.75,213.45 331.57,213.97 331.7,212.69 330.85,211.73 332.1,211.46" fill="#333" stroke="none" stroke-width="1"/>
<polygon points="336.05,210.35 336.7,211.46 337.95,211.73 337.1,212.69 337.23,213.97 336.05,213.45 334.87,213.97 335,212.69 334.15,211.73 335.4,211.46" fill="#333" stroke="none" stroke-width="1"/>
<polygon points="339.35,210.35 340,211.46 341.25,211.73 340.4,212.69 340.53,213.97 339.35,213.45 338.17,213.97 338.3,212.69 337.45,211.73 338.7,211.46" fill="#333" stroke="none" stroke-width="1"/>
<polygon points="342.65,210.35 343.3,211.46 344.55,211.73 343.7,212.69 343.83,213.97 342.65,213.45 341.47,213.97 341.6,212.69 340.75,211.73 342,211.46" fill="#333" stroke="none" stroke-width="1"/>
<polygon points="379.35,204.15 380,205.26 381.25,205.53 380.4,206.49 380.53,207.77 379.35,207.25 378.17,207.77 378.3,206.49 377.45,205.53 378.7,205.26" fill="#333" stroke="none" stroke-width="1"/>
<polygon points="382.65,204.15 383.3,205.26 384.55,205.53 383.7,206.49 383.83,207.77 382.65,207.25 381.47,207.77 381.6,206.49 380.75,205.53 382,205.26" fill="#333" stroke="none" stroke-width="1"/>
<polygon points="417.05,196.45 417.7,197.56 418.95,197.83 418.1,198.79 418.23,200.07 417.05,199.55 415.87,200.07 416,198.79 415.15,197.83 416.4,197.56" fill="#333" stroke="none" stroke-width="1"/>
<polygon points="420.35,196.45 421,197.56 422.25,197.83 421.4,198.79 421.53,200.07 420.35,199.55 419.17,200.07 419.3,198.79 418.45,197.83 419.7,197.56" fill="#333" stroke="none" stroke-width="1"/>
<polygon points="423.65,196.45 424.3,197.56 425.55,197.83 424.7,198.79 424.83,200.07 423.65,199.55 422.47,200.07 422.6,198.79 421.75,197.83 423,197.56" fill="#333" stroke="none" stroke-width="1"/>
<polygon points="426.95,196.45 427.6,197.56 428.85,197.83 428,198.79 428.13,200.07 426.95,199.55 425.77,200.07 425.9,198.79 425.05,197.83 426.3,197.56" fill="#333" stroke="none" stroke-width="1"/>
<text x="280.9" y="322.7" font-size="10.4" text-anchor="middle" textLength="5.09" lengthAdjust="spacingAndGlyphs">0</text>
<text x="315" y="322.7" font-size="10.4" text-anchor="middle" textLength="12.72" lengthAdjust="spacingAndGlyphs">0.5</text>
<text x="331.6" y="322.7" font-size="10.4" text-anchor="middle" textLength="5.09" lengthAdjust="spacingAndGlyphs">1</text>
<text x="348.6" y="322.7" font-size="10.4" text-anchor="middle" textLength="5.09" lengthAdjust="spacingAndGlyphs">2</text>
<text x="365.5" y="322.7" font-size="10.4" text-anchor="middle" textLength="5.09" lengthAdjust="spacingAndGlyphs">3</text>
<text x="399.3" y="322.7" font-size="10.4" text-anchor="middle" textLength="12.72" lengthAdjust="spacingAndGlyphs">0.5</text>
<text x="416.9" y="322.7" font-size="10.4" text-anchor="middle" textLength="5.09" lengthAdjust="spacingAndGlyphs">1</text>
<text x="433.5" y="322.7" font-size="10.4" text-anchor="middle" textLength="5.09" lengthAdjust="spacingAndGlyphs">2</text>
<text x="450" y="322.7" font-size="10.4" text-anchor="middle" textLength="5.09" lengthAdjust="spacingAndGlyphs">3</text>
<text x="483.2" y="322.7" font-size="10.4" text-anchor="middle" textLength="12.72" lengthAdjust="spacingAndGlyphs">0.5</text>
<text x="500.2" y="322.7" font-size="10.4" text-anchor="middle" textLength="5.09" lengthAdjust="spacingAndGlyphs">1</text>
<text x="517.3" y="322.7" font-size="10.4" text-anchor="middle" textLength="5.09" lengthAdjust="spacingAndGlyphs">2</text>
<text x="533.8" y="322.7" font-size="10.4" text-anchor="middle" textLength="5.09" lengthAdjust="spacingAndGlyphs">3</text>
<text x="567.5" y="322.7" font-size="10.4" text-anchor="middle" textLength="12.72" lengthAdjust="spacingAndGlyphs">0.5</text>
<text x="584.7" y="322.7" font-size="10.4" text-anchor="middle" textLength="5.09" lengthAdjust="spacingAndGlyphs">1</text>
<text x="602" y="322.7" font-size="10.4" text-anchor="middle" textLength="5.09" lengthAdjust="spacingAndGlyphs">2</text>
<text x="618.2" y="322.7" font-size="10.4" text-anchor="middle" textLength="5.09" lengthAdjust="spacingAndGlyphs">3</text>
<text x="634.6" y="322.7" font-size="10.4" text-anchor="middle" textLength="10.18" lengthAdjust="spacingAndGlyphs">ng</text>
<text transform="translate(322.6 335) scale(0.8293 1)" font-size="10.2"><tspan fill="#2a3aa8">N5</tspan><tspan>:KRAB</tspan></text>
<text transform="translate(404.8 335) scale(0.8017 1)" font-size="10.2"><tspan fill="#7a8cf8">P5A</tspan><tspan>:KRAB</tspan></text>
<text transform="translate(491 335) scale(0.8262 1)" font-size="10.2"><tspan fill="#8e9cfc">P5</tspan><tspan>:KRAB</tspan></text>
<text transform="translate(569.4 335) scale(0.8470 1)" font-size="10.2"><tspan fill="#a8c0f0">P5SN</tspan><tspan>:KRAB</tspan></text>
<line x1="273.2" y1="336.9" x2="627" y2="336.9" stroke="#444" stroke-width="1"/>
<text transform="translate(374.5 346.7) scale(0.8419 1)" font-size="10.2"><tspan>TALE-A:N6:N8 (30 ng) </tspan><tspan fill="#5a8a1e">N7</tspan><tspan>:VP16 (30 ng)</tspan></text>
<text x="242.6" y="254.8" font-size="10.4" fill="#2a2a2a" text-anchor="middle" textLength="104" lengthAdjust="spacingAndGlyphs" transform="rotate(-90 242.6 254.8)">Luciferase activity (RLU)</text>
<line x1="94.5" y1="492.1" x2="94.5" y2="582" stroke="#3a3a3a" stroke-width="1"/>
<line x1="91.3" y1="581.5" x2="94.5" y2="581.5" stroke="#3a3a3a" stroke-width="1"/>
<text x="87.8" y="584.8" font-size="12.18" text-anchor="end" textLength="6.19" lengthAdjust="spacingAndGlyphs">0</text>
<line x1="91.3" y1="559.3" x2="94.5" y2="559.3" stroke="#3a3a3a" stroke-width="1"/>
<text x="87.8" y="562.6" font-size="12.18" text-anchor="end" textLength="6.19" lengthAdjust="spacingAndGlyphs">5</text>
<line x1="91.3" y1="537.1" x2="94.5" y2="537.1" stroke="#3a3a3a" stroke-width="1"/>
<text x="87.8" y="540.4" font-size="12.18" text-anchor="end" textLength="12.39" lengthAdjust="spacingAndGlyphs">10</text>
<line x1="91.3" y1="514.9" x2="94.5" y2="514.9" stroke="#3a3a3a" stroke-width="1"/>
<text x="87.8" y="518.2" font-size="12.18" text-anchor="end" textLength="12.39" lengthAdjust="spacingAndGlyphs">15</text>
<line x1="91.3" y1="492.7" x2="94.5" y2="492.7" stroke="#3a3a3a" stroke-width="1"/>
<text x="87.8" y="496" font-size="12.18" text-anchor="end" textLength="12.39" lengthAdjust="spacingAndGlyphs">20</text>
<line x1="93.2" y1="570.4" x2="94.5" y2="570.4" stroke="#3a3a3a" stroke-width="1"/>
<line x1="93.2" y1="548.2" x2="94.5" y2="548.2" stroke="#3a3a3a" stroke-width="1"/>
<line x1="93.2" y1="526" x2="94.5" y2="526" stroke="#3a3a3a" stroke-width="1"/>
<line x1="93.2" y1="503.8" x2="94.5" y2="503.8" stroke="#3a3a3a" stroke-width="1"/>
<linearGradient id="wg9" x1="0" x2="1" y1="0" y2="0"><stop offset="0" stop-color="#f2f2f2"/><stop offset="1" stop-color="#d4d4d4"/></linearGradient>
<polygon points="117.9,591 194.5,583.4 194.5,591" fill="url(#wg9)" stroke="none" stroke-width="1"/>
<rect x="96.4" y="531.77" width="17" height="49.73" fill="#6ca816" stroke="#2a2a2a" stroke-width="0.7"/>
<rect x="116.8" y="558.41" width="17" height="23.09" fill="#486e12" stroke="#2a2a2a" stroke-width="0.7"/>
<rect x="137.1" y="569.51" width="17" height="11.99" fill="#486e12" stroke="#2a2a2a" stroke-width="0.7"/>
<rect x="157.3" y="577.81" width="17" height="3.69" fill="#486e12" stroke="#2a2a2a" stroke-width="0.7"/>
<rect x="177.7" y="577.59" width="17" height="3.91" fill="#486e12" stroke="#2a2a2a" stroke-width="0.7"/>
<line x1="89.5" y1="581.5" x2="195.6" y2="581.5" stroke="#3a3a3a" stroke-width="1.1"/>
<line x1="104.9" y1="523.5" x2="104.9" y2="537.5" stroke="#111" stroke-width="0.8"/>
<line x1="102.4" y1="523.5" x2="107.4" y2="523.5" stroke="#111" stroke-width="0.8"/>
<line x1="102.4" y1="537.5" x2="107.4" y2="537.5" stroke="#111" stroke-width="0.8"/>
<polygon points="104.9,520.4 107,522.5 104.9,524.6 102.8,522.5" fill="#fff" stroke="#222" stroke-width="0.6"/>
<polygon points="104.9,530.4 107,532.5 104.9,534.6 102.8,532.5" fill="#fff" stroke="#222" stroke-width="0.6"/>
<polygon points="104.9,535.4 107,537.5 104.9,539.6 102.8,537.5" fill="#fff" stroke="#222" stroke-width="0.6"/>
<polygon points="125.3,554.1 127.4,556.2 125.3,558.3 123.2,556.2" fill="#fff" stroke="#222" stroke-width="0.6"/>
<polygon points="124.3,557.6 126.4,559.7 124.3,561.8 122.2,559.7" fill="#fff" stroke="#222" stroke-width="0.6"/>
<polygon points="145.5,566.7 147.5,568.7 145.5,570.7 143.5,568.7" fill="#fff" stroke="#222" stroke-width="0.6"/>
<polygon points="165.8,575 167.8,577 165.8,579 163.8,577" fill="#fff" stroke="#222" stroke-width="0.6"/>
<polygon points="186.1,574.5 188.1,576.5 186.1,578.5 184.1,576.5" fill="#fff" stroke="#222" stroke-width="0.6"/>
<text x="98.6" y="499" font-size="9.7" fill="#111" font-weight="bold" textLength="11.4" lengthAdjust="spacingAndGlyphs">ON</text>
<text x="117.3" y="499" font-size="9.7" fill="#111" font-weight="bold" textLength="15.6" lengthAdjust="spacingAndGlyphs">OFF</text>
<line x1="133.7" y1="496.4" x2="141.5" y2="496.4" stroke="#222" stroke-width="0.8"/>
<polygon points="143,496.4 140.3,495 140.3,497.8" fill="#222" stroke="none" stroke-width="1"/>
<path d="M104.3 524.9 L104.3 517.6 Q104.3 516.4 105.5 516.4 L120.5 516.4 L120.5 520.5" stroke="#444" stroke-width="1" fill="none"/>
<polygon points="107.8,511.15 108.45,512.26 109.7,512.53 108.85,513.49 108.98,514.77 107.8,514.25 106.62,514.77 106.75,513.49 105.9,512.53 107.15,512.26" fill="#333" stroke="none" stroke-width="1"/>
<polygon points="111.1,511.15 111.75,512.26 113,512.53 112.15,513.49 112.28,514.77 111.1,514.25 109.92,514.77 110.05,513.49 109.2,512.53 110.45,512.26" fill="#333" stroke="none" stroke-width="1"/>
<polygon points="114.4,511.15 115.05,512.26 116.3,512.53 115.45,513.49 115.58,514.77 114.4,514.25 113.22,514.77 113.35,513.49 112.5,512.53 113.75,512.26" fill="#333" stroke="none" stroke-width="1"/>
<polygon points="117.7,511.15 118.35,512.26 119.6,512.53 118.75,513.49 118.88,514.77 117.7,514.25 116.52,514.77 116.65,513.49 115.8,512.53 117.05,512.26" fill="#333" stroke="none" stroke-width="1"/>
<text x="103.5" y="602.1" font-size="10.4" text-anchor="middle" textLength="5.09" lengthAdjust="spacingAndGlyphs">0</text>
<text x="124.6" y="602.1" font-size="10.4" text-anchor="middle" textLength="10.18" lengthAdjust="spacingAndGlyphs">10</text>
<text x="144.4" y="602.1" font-size="10.4" text-anchor="middle" textLength="10.18" lengthAdjust="spacingAndGlyphs">30</text>
<text x="165.4" y="602.1" font-size="10.4" text-anchor="middle" textLength="10.18" lengthAdjust="spacingAndGlyphs">50</text>
<text x="185.9" y="602.1" font-size="10.4" text-anchor="middle" textLength="10.18" lengthAdjust="spacingAndGlyphs">70</text>
<text x="203.6" y="602.1" font-size="10.4" text-anchor="middle" textLength="10.18" lengthAdjust="spacingAndGlyphs">ng</text>
<text x="132" y="615" font-size="10.5" fill="#2a8a2a" font-weight="bold" textLength="12.6" lengthAdjust="spacingAndGlyphs">N7</text>
<text x="144.8" y="610.8" font-size="6.8" fill="#2a8a2a" font-weight="bold" textLength="12.9" lengthAdjust="spacingAndGlyphs">NLS</text>
<line x1="93.9" y1="617.8" x2="196.5" y2="617.8" stroke="#444" stroke-width="1"/>
<text x="103.3" y="628.6" font-size="10.2" textLength="97.5" lengthAdjust="spacingAndGlyphs">TALE-A:N6:N8 (30 ng)</text>
<text transform="translate(112.4 642.3) scale(0.9395 1)" font-size="10.4"><tspan fill="#7ab82a" font-weight="bold">P7A</tspan><tspan>:VP16 (30 ng)</tspan></text>
<text x="68.8" y="535.6" font-size="10.4" fill="#2a2a2a" text-anchor="middle" textLength="104.5" lengthAdjust="spacingAndGlyphs" transform="rotate(-90 68.8 535.6)">Luciferase activity (RLU)</text>
<line x1="436.5" y1="492.5" x2="436.5" y2="581.8" stroke="#3a3a3a" stroke-width="1"/>
<line x1="433.3" y1="581.3" x2="436.5" y2="581.3" stroke="#3a3a3a" stroke-width="1"/>
<text x="429.4" y="584.6" font-size="12.18" text-anchor="end" textLength="6.19" lengthAdjust="spacingAndGlyphs">0</text>
<line x1="433.3" y1="559.2" x2="436.5" y2="559.2" stroke="#3a3a3a" stroke-width="1"/>
<text x="429.4" y="562.5" font-size="12.18" text-anchor="end" textLength="6.19" lengthAdjust="spacingAndGlyphs">5</text>
<line x1="433.3" y1="537.1" x2="436.5" y2="537.1" stroke="#3a3a3a" stroke-width="1"/>
<text x="429.4" y="540.4" font-size="12.18" text-anchor="end" textLength="12.39" lengthAdjust="spacingAndGlyphs">10</text>
<line x1="433.3" y1="515" x2="436.5" y2="515" stroke="#3a3a3a" stroke-width="1"/>
<text x="429.4" y="518.3" font-size="12.18" text-anchor="end" textLength="12.39" lengthAdjust="spacingAndGlyphs">15</text>
<line x1="433.3" y1="492.9" x2="436.5" y2="492.9" stroke="#3a3a3a" stroke-width="1"/>
<text x="429.4" y="496.2" font-size="12.18" text-anchor="end" textLength="12.39" lengthAdjust="spacingAndGlyphs">20</text>
<line x1="435.2" y1="570.25" x2="436.5" y2="570.25" stroke="#3a3a3a" stroke-width="1"/>
<line x1="435.2" y1="548.15" x2="436.5" y2="548.15" stroke="#3a3a3a" stroke-width="1"/>
<line x1="435.2" y1="526.05" x2="436.5" y2="526.05" stroke="#3a3a3a" stroke-width="1"/>
<line x1="435.2" y1="503.95" x2="436.5" y2="503.95" stroke="#3a3a3a" stroke-width="1"/>
<linearGradient id="wg10" x1="0" x2="1" y1="0" y2="0"><stop offset="0" stop-color="#f2f2f2"/><stop offset="1" stop-color="#d4d4d4"/></linearGradient>
<polygon points="478,591 556.1,583.7 556.1,591" fill="url(#wg10)" stroke="none" stroke-width="1"/>
<rect x="439" y="531.8" width="16.7" height="49.5" fill="#6ca816" stroke="#2a2a2a" stroke-width="0.7"/>
<rect x="459.3" y="571.13" width="16.7" height="10.17" fill="#5a70fa" stroke="#2a2a2a" stroke-width="0.7"/>
<rect x="479.3" y="557.43" width="16.7" height="23.87" fill="#020c7e" stroke="#2a2a2a" stroke-width="0.7"/>
<rect x="499.3" y="537.1" width="16.7" height="44.2" fill="#020c7e" stroke="#2a2a2a" stroke-width="0.7"/>
<rect x="519.7" y="525.61" width="16.7" height="55.69" fill="#020c7e" stroke="#2a2a2a" stroke-width="0.7"/>
<rect x="540.2" y="519.42" width="16.7" height="61.88" fill="#020c7e" stroke="#2a2a2a" stroke-width="0.7"/>
<line x1="431.5" y1="581.3" x2="558.7" y2="581.3" stroke="#3a3a3a" stroke-width="1.1"/>
<line x1="447.3" y1="523.5" x2="447.3" y2="537.5" stroke="#111" stroke-width="0.8"/>
<line x1="444.8" y1="523.5" x2="449.8" y2="523.5" stroke="#111" stroke-width="0.8"/>
<line x1="444.8" y1="537.5" x2="449.8" y2="537.5" stroke="#111" stroke-width="0.8"/>
<polygon points="447.3,521.4 449.4,523.5 447.3,525.6 445.2,523.5" fill="#fff" stroke="#222" stroke-width="0.6"/>
<polygon points="447.3,529.9 449.4,532 447.3,534.1 445.2,532" fill="#fff" stroke="#222" stroke-width="0.6"/>
<polygon points="447.3,534.9 449.4,537 447.3,539.1 445.2,537" fill="#fff" stroke="#222" stroke-width="0.6"/>
<polygon points="467.6,567.3 469.6,569.3 467.6,571.3 465.6,569.3" fill="#fff" stroke="#222" stroke-width="0.6"/>
<polygon points="467.6,569.8 469.6,571.8 467.6,573.8 465.6,571.8" fill="#fff" stroke="#222" stroke-width="0.6"/>
<line x1="487.6" y1="554" x2="487.6" y2="559.5" stroke="#111" stroke-width="0.8"/>
<line x1="485.1" y1="554" x2="490.1" y2="554" stroke="#111" stroke-width="0.8"/>
<line x1="485.1" y1="559.5" x2="490.1" y2="559.5" stroke="#111" stroke-width="0.8"/>
<polygon points="487.6,552 489.6,554 487.6,556 485.6,554" fill="#fff" stroke="#222" stroke-width="0.6"/>
<polygon points="487.6,556.5 489.6,558.5 487.6,560.5 485.6,558.5" fill="#fff" stroke="#222" stroke-width="0.6"/>
<line x1="507.8" y1="533" x2="507.8" y2="541" stroke="#111" stroke-width="0.8"/>
<line x1="505.3" y1="533" x2="510.3" y2="533" stroke="#111" stroke-width="0.8"/>
<line x1="505.3" y1="541" x2="510.3" y2="541" stroke="#111" stroke-width="0.8"/>
<polygon points="507.8,531 509.8,533 507.8,535 505.8,533" fill="#fff" stroke="#222" stroke-width="0.6"/>
<polygon points="507.3,535 509.3,537 507.3,539 505.3,537" fill="#fff" stroke="#222" stroke-width="0.6"/>
<polygon points="507.8,539 509.8,541 507.8,543 505.8,541" fill="#fff" stroke="#222" stroke-width="0.6"/>
<line x1="528.1" y1="523.5" x2="528.1" y2="527.5" stroke="#111" stroke-width="0.8"/>
<line x1="525.6" y1="523.5" x2="530.6" y2="523.5" stroke="#111" stroke-width="0.8"/>
<line x1="525.6" y1="527.5" x2="530.6" y2="527.5" stroke="#111" stroke-width="0.8"/>
<polygon points="528.1,521.5 530.1,523.5 528.1,525.5 526.1,523.5" fill="#fff" stroke="#222" stroke-width="0.6"/>
<polygon points="528.1,525 530.1,527 528.1,529 526.1,527" fill="#fff" stroke="#222" stroke-width="0.6"/>
<polygon points="546.5,517.3 548.5,519.3 546.5,521.3 544.5,519.3" fill="#fff" stroke="#222" stroke-width="0.6"/>
<polygon points="549,515.8 551,517.8 549,519.8 547,517.8" fill="#fff" stroke="#222" stroke-width="0.6"/>
<polygon points="551,516.8 553,518.8 551,520.8 549,518.8" fill="#fff" stroke="#222" stroke-width="0.6"/>
<text x="441" y="499" font-size="9.7" fill="#111" font-weight="bold" textLength="11.3" lengthAdjust="spacingAndGlyphs">ON</text>
<text x="457.4" y="499" font-size="9.7" fill="#111" font-weight="bold" textLength="15.6" lengthAdjust="spacingAndGlyphs">OFF</text>
<text x="478" y="499" font-size="9.7" fill="#111" font-weight="bold" textLength="11.3" lengthAdjust="spacingAndGlyphs">ON</text>
<line x1="490.2" y1="496.4" x2="498.5" y2="496.4" stroke="#222" stroke-width="0.8"/>
<polygon points="500,496.4 497.3,495 497.3,497.8" fill="#222" stroke="none" stroke-width="1"/>
<path d="M447.3 512.5 L447.3 510.7 Q447.3 509.5 448.5 509.5 L489 509.5 L489 512.6" stroke="#444" stroke-width="1" fill="none"/>
<text x="469.7" y="507.2" font-size="8" text-anchor="middle" textLength="7.6" lengthAdjust="spacingAndGlyphs">ns</text>
<path d="M447.5 525 L447.5 519.7 Q447.5 518.5 448.7 518.5 L464.5 518.5 L464.5 521.9" stroke="#444" stroke-width="1" fill="none"/>
<polygon points="451.05,512.55 451.7,513.66 452.95,513.93 452.1,514.89 452.23,516.17 451.05,515.65 449.87,516.17 450,514.89 449.15,513.93 450.4,513.66" fill="#333" stroke="none" stroke-width="1"/>
<polygon points="454.35,512.55 455,513.66 456.25,513.93 455.4,514.89 455.53,516.17 454.35,515.65 453.17,516.17 453.3,514.89 452.45,513.93 453.7,513.66" fill="#333" stroke="none" stroke-width="1"/>
<polygon points="457.65,512.55 458.3,513.66 459.55,513.93 458.7,514.89 458.83,516.17 457.65,515.65 456.47,516.17 456.6,514.89 455.75,513.93 457,513.66" fill="#333" stroke="none" stroke-width="1"/>
<polygon points="460.95,512.55 461.6,513.66 462.85,513.93 462,514.89 462.13,516.17 460.95,515.65 459.77,516.17 459.9,514.89 459.05,513.93 460.3,513.66" fill="#333" stroke="none" stroke-width="1"/>
<text x="448" y="600.6" font-size="10.4" text-anchor="middle" textLength="3.05" lengthAdjust="spacingAndGlyphs">-</text>
<text x="467.9" y="600.6" font-size="10.4" text-anchor="middle" textLength="5.09" lengthAdjust="spacingAndGlyphs">0</text>
<text x="488.5" y="600.6" font-size="10.4" text-anchor="middle" textLength="10.18" lengthAdjust="spacingAndGlyphs">10</text>
<text x="508.8" y="600.6" font-size="10.4" text-anchor="middle" textLength="10.18" lengthAdjust="spacingAndGlyphs">30</text>
<text x="529.3" y="600.6" font-size="10.4" text-anchor="middle" textLength="10.18" lengthAdjust="spacingAndGlyphs">50</text>
<text x="549.7" y="600.6" font-size="10.4" text-anchor="middle" textLength="10.18" lengthAdjust="spacingAndGlyphs">70</text>
<text x="567.9" y="600.6" font-size="10.4" text-anchor="middle" textLength="10.18" lengthAdjust="spacingAndGlyphs">ng</text>
<text x="497" y="613.9" font-size="10.5" fill="#0c1c8a" font-weight="bold" textLength="13" lengthAdjust="spacingAndGlyphs">N5</text>
<text x="510" y="609.8" font-size="6.8" fill="#0c1c8a" font-weight="bold" textLength="12.1" lengthAdjust="spacingAndGlyphs">NLS</text>
<line x1="458.6" y1="616.9" x2="560.9" y2="616.9" stroke="#444" stroke-width="1"/>
<text x="448" y="628.2" font-size="10.4" text-anchor="middle">-</text>
<text transform="translate(474.6 627.9) scale(0.9244 1)" font-size="10.4"><tspan fill="#6a82f6">P5</tspan><tspan>:KRAB (1 ng)</tspan></text>
<line x1="437.5" y1="630.7" x2="560.9" y2="630.7" stroke="#444" stroke-width="1"/>
<text x="450.8" y="641.9" font-size="10.2" textLength="97.5" lengthAdjust="spacingAndGlyphs">TALE-A:N6:N8 (30 ng)</text>
<text transform="translate(460.6 655.9) scale(0.9205 1)" font-size="10.4"><tspan fill="#7ab82a" font-weight="bold">P7A</tspan><tspan>:VP16 (30 ng)</tspan></text>
<text x="411.8" y="535.2" font-size="10.4" fill="#2a2a2a" text-anchor="middle" textLength="104.5" lengthAdjust="spacingAndGlyphs" transform="rotate(-90 411.8 535.2)">Luciferase activity (RLU)</text>
<line x1="45.4" y1="89.4" x2="59.1" y2="89.4" stroke="#222" stroke-width="1"/>
<rect x="12.4" y="83.9" width="35" height="9.2" fill="#cbcbcb" stroke="none" stroke-width="1"/>
<path d="M14.2 91.9 C14.4 95.7 17.2 96.2 18.8 94.3 C20.4 91.6 21.4 81.3 24 81.5 C25.8 81.7 26.8 82.7 27 84.7" stroke="#5a5a5a" stroke-width="2.7" fill="none" stroke-linecap="round"/>
<path d="M27.33 91.9 C27.53 95.7 30.33 96.2 31.93 94.3 C33.53 91.6 34.53 81.3 37.12 81.5 C38.93 81.7 39.93 82.7 40.12 84.7" stroke="#5a5a5a" stroke-width="2.7" fill="none" stroke-linecap="round"/>
<path d="M40.45 91.9 C40.65 95.7 43.45 96.2 45.05 94.3 C46.45 92.6 46.9 87.9 47.7 84.7" stroke="#5a5a5a" stroke-width="2.7" fill="none" stroke-linecap="round"/>
<polygon points="59.1,84.6 76.3,84.6 81.8,89.5 76.3,94.4 59.1,94.4" fill="#fffdf4" stroke="#f0c040" stroke-width="0.9"/>
<text x="60.6" y="92.4" font-size="9.2" fill="#f0b820" font-style="italic" textLength="16.2" lengthAdjust="spacingAndGlyphs">fLuc</text>
<path d="M48.91 54 C48.91 55.38 51.9 55.12 51.9 56.5 C51.9 57.88 47.3 57.62 47.3 59 C47.3 60.38 51.9 60.12 51.9 61.5 C51.9 62.88 47.3 62.62 47.3 64 C47.3 65.38 51.9 65.12 51.9 66.5 C51.9 67.88 47.3 67.62 47.3 69 C47.3 70.38 51.9 70.12 51.9 71.5 C51.9 72.88 47.3 72.62 47.3 74 C47.3 75.38 51.9 75.12 51.9 76.5 C51.9 77.88 47.3 77.62 47.3 79 C47.3 80.38 51.9 80.12 51.9 81.5" stroke="#b8b8b8" stroke-width="2.75" fill="none" stroke-linecap="round" stroke-linejoin="round"/>
<line x1="49.5" y1="81.5" x2="48" y2="88" stroke="#555" stroke-width="0.7"/>
<text x="16.6" y="79.4" font-size="10" fill="#222" textLength="27.4" lengthAdjust="spacingAndGlyphs">TALE-A</text>
<text x="60" y="63" font-size="9.8" fill="#222" text-anchor="middle" textLength="41" lengthAdjust="spacingAndGlyphs" transform="rotate(-90 60 63)">CC-peptide</text>
<text x="3.1" y="107.3" font-size="7.6" textLength="27.4" lengthAdjust="spacingAndGlyphs">TALE-A10x</text>
<text x="30.7" y="106.2" font-size="10" textLength="6.6" lengthAdjust="spacingAndGlyphs">-P</text>
<text x="38.1" y="107.4" font-size="7.6" textLength="8.5" lengthAdjust="spacingAndGlyphs">min</text>
<text x="47.6" y="106.2" font-size="10" font-style="italic" textLength="18" lengthAdjust="spacingAndGlyphs">-fLuc</text>
<text x="91.6" y="62.6" font-size="9.8" fill="#222" text-anchor="middle" textLength="41.2" lengthAdjust="spacingAndGlyphs" transform="rotate(-90 91.6 62.6)">CC-peptide</text>
<path d="M98.51 52.5 C98.51 53.82 101.5 53.58 101.5 54.91 C101.5 56.23 96.9 55.99 96.9 57.32 C96.9 58.64 101.5 58.4 101.5 59.72 C101.5 61.05 96.9 60.81 96.9 62.13 C96.9 63.46 101.5 63.22 101.5 64.54 C101.5 65.87 96.9 65.63 96.9 66.95 C96.9 68.27 101.5 68.03 101.5 69.36 C101.5 70.68 96.9 70.44 96.9 71.77 C96.9 73.09 101.5 72.85 101.5 74.17 C101.5 75.5 96.9 75.26 96.9 76.58 C96.9 77.91 101.5 77.67 101.5 78.99 C101.5 80.32 96.9 80.08 96.9 81.4" stroke="#707070" stroke-width="2.75" fill="none" stroke-linecap="round" stroke-linejoin="round"/>
<line x1="99.5" y1="52.5" x2="104.5" y2="49.5" stroke="#333" stroke-width="0.8"/>
<circle cx="107.1" cy="48.1" r="3.9" fill="#2fd3d8" stroke="none" stroke-width="1"/>
<text x="112.3" y="51.8" font-size="10" fill="#2fd3d8" textLength="21.2" lengthAdjust="spacingAndGlyphs">VP16</text>
<line x1="87.9" y1="87.3" x2="109.5" y2="87.3" stroke="#222" stroke-width="1"/>
<polygon points="113.5,87.3 108.5,85.3 108.5,89.3" fill="#222" stroke="none" stroke-width="1"/>
<line x1="149.5" y1="89.2" x2="163.2" y2="89.2" stroke="#222" stroke-width="1"/>
<rect x="116.9" y="83.9" width="34.6" height="9.2" fill="#cbcbcb" stroke="none" stroke-width="1"/>
<path d="M118.68 91.9 C118.88 95.7 121.65 96.2 123.23 94.3 C124.81 91.6 125.8 81.3 128.37 81.5 C130.15 81.7 131.14 82.7 131.33 84.7" stroke="#5a5a5a" stroke-width="2.7" fill="none" stroke-linecap="round"/>
<path d="M131.65 91.9 C131.85 95.7 134.62 96.2 136.2 94.3 C137.78 91.6 138.77 81.3 141.34 81.5 C143.12 81.7 144.11 82.7 144.31 84.7" stroke="#5a5a5a" stroke-width="2.7" fill="none" stroke-linecap="round"/>
<path d="M144.63 91.9 C144.83 95.7 147.6 96.2 149.18 94.3 C150.56 92.6 151 87.9 151.8 84.7" stroke="#5a5a5a" stroke-width="2.7" fill="none" stroke-linecap="round"/>
<polygon points="163.2,84.2 180.5,84.2 186,89.3 180.5,94.4 163.2,94.4" fill="#fde8ae" stroke="#f0c040" stroke-width="0.8"/>
<path d="M161.6 88.9 L161.6 83 L165 83" stroke="#111" stroke-width="0.9" fill="none"/>
<polygon points="166.6,83 164.8,81.6 164.8,84.4" fill="#111" stroke="none" stroke-width="1"/>
<polygon points="196.9,94.5 194.56,95.54 196.07,97.6 193.53,97.33 193.8,99.87 191.74,98.36 190.7,100.7 189.66,98.36 187.6,99.87 187.87,97.33 185.33,97.6 186.84,95.54 184.5,94.5 186.84,93.46 185.33,91.4 187.87,91.67 187.6,89.13 189.66,90.64 190.7,88.3 191.74,90.64 193.8,89.13 193.53,91.67 196.07,91.4 194.56,93.46" fill="#f8c20c" stroke="none" stroke-width="1"/>
<circle cx="190.7" cy="94.5" r="3.6" fill="#fdd94e" stroke="#f5b800" stroke-width="0.6"/>
<path d="M151.31 52.5 C151.31 53.82 154.3 53.58 154.3 54.91 C154.3 56.23 149.7 55.99 149.7 57.32 C149.7 58.64 154.3 58.4 154.3 59.72 C154.3 61.05 149.7 60.81 149.7 62.13 C149.7 63.46 154.3 63.22 154.3 64.54 C154.3 65.87 149.7 65.63 149.7 66.95 C149.7 68.27 154.3 68.03 154.3 69.36 C154.3 70.68 149.7 70.44 149.7 71.77 C149.7 73.09 154.3 72.85 154.3 74.17 C154.3 75.5 149.7 75.26 149.7 76.58 C149.7 77.91 154.3 77.67 154.3 78.99 C154.3 80.32 149.7 80.08 149.7 81.4" stroke="#b8b8b8" stroke-width="2.75" fill="none" stroke-linecap="round" stroke-linejoin="round"/>
<path d="M157.91 52.5 C157.91 53.82 160.9 53.58 160.9 54.91 C160.9 56.23 156.3 55.99 156.3 57.32 C156.3 58.64 160.9 58.4 160.9 59.72 C160.9 61.05 156.3 60.81 156.3 62.13 C156.3 63.46 160.9 63.22 160.9 64.54 C160.9 65.87 156.3 65.63 156.3 66.95 C156.3 68.27 160.9 68.03 160.9 69.36 C160.9 70.68 156.3 70.44 156.3 71.77 C156.3 73.09 160.9 72.85 160.9 74.17 C160.9 75.5 156.3 75.26 156.3 76.58 C156.3 77.91 160.9 77.67 160.9 78.99 C160.9 80.32 156.3 80.08 156.3 81.4" stroke="#707070" stroke-width="2.75" fill="none" stroke-linecap="round" stroke-linejoin="round"/>
<line x1="158.8" y1="52.5" x2="164.5" y2="49" stroke="#333" stroke-width="0.8"/>
<circle cx="167.6" cy="47.6" r="3.9" fill="#2fd3d8" stroke="none" stroke-width="1"/>
<line x1="152.5" y1="81.5" x2="151" y2="88" stroke="#555" stroke-width="0.7"/>
<text x="27.6" y="211.3" font-size="10.2" fill="#000" font-weight="bold" textLength="14.3" lengthAdjust="spacingAndGlyphs">ON</text>
<text x="134.8" y="211.3" font-size="10.2" fill="#000" font-weight="bold" textLength="19.9" lengthAdjust="spacingAndGlyphs">OFF</text>
<line x1="44.4" y1="296.1" x2="57.6" y2="296.1" stroke="#222" stroke-width="1"/>
<rect x="10.8" y="290.9" width="35.6" height="9.2" fill="#cbcbcb" stroke="none" stroke-width="1"/>
<path d="M12.63 298.9 C12.83 302.7 15.68 303.2 17.31 301.3 C18.94 298.6 19.95 288.3 22.6 288.5 C24.43 288.7 25.45 289.7 25.65 291.7" stroke="#5a5a5a" stroke-width="2.7" fill="none" stroke-linecap="round"/>
<path d="M25.98 298.9 C26.18 302.7 29.03 303.2 30.66 301.3 C32.29 298.6 33.3 288.3 35.95 288.5 C37.78 288.7 38.8 289.7 39 291.7" stroke="#5a5a5a" stroke-width="2.7" fill="none" stroke-linecap="round"/>
<path d="M39.33 298.9 C39.53 302.7 42.38 303.2 44.01 301.3 C45.43 299.6 45.9 294.9 46.7 291.7" stroke="#5a5a5a" stroke-width="2.7" fill="none" stroke-linecap="round"/>
<polygon points="57.6,291.4 74.4,291.4 79.9,296.3 74.4,301.2 57.6,301.2" fill="#fde8ae" stroke="#f0c040" stroke-width="0.8"/>
<path d="M56.7 295.8 L56.7 289.9 L60.1 289.9" stroke="#111" stroke-width="0.9" fill="none"/>
<polygon points="61.7,289.9 59.9,288.5 59.9,291.3" fill="#111" stroke="none" stroke-width="1"/>
<polygon points="91.4,302.4 89.06,303.44 90.57,305.5 88.03,305.23 88.3,307.77 86.24,306.26 85.2,308.6 84.16,306.26 82.1,307.77 82.37,305.23 79.83,305.5 81.34,303.44 79,302.4 81.34,301.36 79.83,299.3 82.37,299.57 82.1,297.03 84.16,298.54 85.2,296.2 86.24,298.54 88.3,297.03 88.03,299.57 90.57,299.3 89.06,301.36" fill="#f8c20c" stroke="none" stroke-width="1"/>
<circle cx="85.2" cy="302.4" r="3.6" fill="#fdd94e" stroke="#f5b800" stroke-width="0.6"/>
<path d="M46.91 228.5 C46.91 230.18 49.9 229.88 49.9 231.56 C49.9 233.24 45.3 232.93 45.3 234.61 C45.3 236.29 49.9 235.99 49.9 237.67 C49.9 239.35 45.3 239.04 45.3 240.72 C45.3 242.4 49.9 242.1 49.9 243.78 C49.9 245.46 45.3 245.15 45.3 246.83 C45.3 248.51 49.9 248.21 49.9 249.89 C49.9 251.57 45.3 251.26 45.3 252.94 C45.3 254.62 49.9 254.32 49.9 256" stroke="#14846a" stroke-width="2.75" fill="none" stroke-linecap="round" stroke-linejoin="round"/>
<path d="M54.31 228.5 C54.31 230.18 57.3 229.88 57.3 231.56 C57.3 233.24 52.7 232.93 52.7 234.61 C52.7 236.29 57.3 235.99 57.3 237.67 C57.3 239.35 52.7 239.04 52.7 240.72 C52.7 242.4 57.3 242.1 57.3 243.78 C57.3 245.46 52.7 245.15 52.7 246.83 C52.7 248.51 57.3 248.21 57.3 249.89 C57.3 251.57 52.7 251.26 52.7 252.94 C52.7 254.62 57.3 254.32 57.3 256" stroke="#257a1e" stroke-width="2.75" fill="none" stroke-linecap="round" stroke-linejoin="round"/>
<path d="M46.21 259 C46.21 260.81 49.2 260.48 49.2 262.29 C49.2 264.1 44.6 263.77 44.6 265.58 C44.6 267.39 49.2 267.06 49.2 268.87 C49.2 270.68 44.6 270.35 44.6 272.16 C44.6 273.96 49.2 273.64 49.2 275.44 C49.2 277.25 44.6 276.92 44.6 278.73 C44.6 280.54 49.2 280.21 49.2 282.02 C49.2 283.83 44.6 283.5 44.6 285.31 C44.6 287.12 49.2 286.79 49.2 288.6" stroke="#2a2aa0" stroke-width="2.75" fill="none" stroke-linecap="round" stroke-linejoin="round"/>
<path d="M47.6 288.4 Q48.6 292 47.0 296.2" stroke="#555" stroke-width="0.8" fill="none"/>
<line x1="55.2" y1="228.5" x2="60.3" y2="224.5" stroke="#333" stroke-width="0.8"/>
<circle cx="63.5" cy="222.5" r="4" fill="#2fd3d8" stroke="none" stroke-width="1"/>
<text x="70" y="226.5" font-size="10.2" fill="#2fd3d8" textLength="19.8" lengthAdjust="spacingAndGlyphs">VP16</text>
<text x="31.6" y="246.2" font-size="10.2" fill="#14846a" textLength="10.9" lengthAdjust="spacingAndGlyphs">N8</text>
<text x="58.2" y="246.2" font-size="10.2" fill="#257a1e" textLength="11.8" lengthAdjust="spacingAndGlyphs">N7</text>
<text x="31.6" y="277.8" font-size="10.2" fill="#2a2aa0" textLength="9.9" lengthAdjust="spacingAndGlyphs">N6</text>
<text x="11.8" y="287.6" font-size="10.2" fill="#222" textLength="27.7" lengthAdjust="spacingAndGlyphs">TALE-A</text>
<text x="3.3" y="313.3" font-size="7.6" textLength="27.4" lengthAdjust="spacingAndGlyphs">TALE-A10x</text>
<text x="30.9" y="312.2" font-size="10" textLength="6.6" lengthAdjust="spacingAndGlyphs">-P</text>
<text x="38.3" y="313.4" font-size="7.6" textLength="8.5" lengthAdjust="spacingAndGlyphs">min</text>
<text x="47.8" y="312.2" font-size="10" font-style="italic" textLength="18" lengthAdjust="spacingAndGlyphs">-fLuc</text>
<path d="M93.81 261 C93.81 262.75 96.8 262.43 96.8 264.18 C96.8 265.93 92.2 265.61 92.2 267.36 C92.2 269.1 96.8 268.79 96.8 270.53 C96.8 272.28 92.2 271.96 92.2 273.71 C92.2 275.46 96.8 275.14 96.8 276.89 C96.8 278.64 92.2 278.32 92.2 280.07 C92.2 281.81 96.8 281.5 96.8 283.24 C96.8 284.99 92.2 284.67 92.2 286.42 C92.2 288.17 96.8 287.85 96.8 289.6" stroke="#2a78dc" stroke-width="2.75" fill="none" stroke-linecap="round" stroke-linejoin="round"/>
<line x1="94.8" y1="261" x2="99.5" y2="258" stroke="#333" stroke-width="0.8"/>
<circle cx="102.7" cy="255.7" r="4" fill="#f000e8" stroke="none" stroke-width="1"/>
<text x="107.6" y="259.4" font-size="10.2" fill="#f000e8" textLength="22.2" lengthAdjust="spacingAndGlyphs">KRAB</text>
<text x="98.1" y="279.7" font-size="10.2" fill="#2a78dc" textLength="15.5" lengthAdjust="spacingAndGlyphs">P5A</text>
<line x1="92.2" y1="296.5" x2="113.7" y2="296.5" stroke="#222" stroke-width="1"/>
<polygon points="117.7,296.5 112.7,294.5 112.7,298.5" fill="#222" stroke="none" stroke-width="1"/>
<line x1="154.4" y1="296.8" x2="166.8" y2="296.8" stroke="#222" stroke-width="1"/>
<rect x="121.4" y="291.8" width="35" height="9.2" fill="#cbcbcb" stroke="none" stroke-width="1"/>
<path d="M123.2 299.8 C123.4 303.6 126.2 304.1 127.8 302.2 C129.4 299.5 130.4 289.2 133 289.4 C134.8 289.6 135.8 290.6 136 292.6" stroke="#5a5a5a" stroke-width="2.7" fill="none" stroke-linecap="round"/>
<path d="M136.32 299.8 C136.52 303.6 139.32 304.1 140.92 302.2 C142.52 299.5 143.52 289.2 146.12 289.4 C147.92 289.6 148.92 290.6 149.12 292.6" stroke="#5a5a5a" stroke-width="2.7" fill="none" stroke-linecap="round"/>
<path d="M149.45 299.8 C149.65 303.6 152.45 304.1 154.05 302.2 C155.45 300.5 155.9 295.8 156.7 292.6" stroke="#5a5a5a" stroke-width="2.7" fill="none" stroke-linecap="round"/>
<polygon points="166.8,292.2 184.5,292.2 190,297 184.5,301.8 166.8,301.8" fill="#fffdf4" stroke="#f0c040" stroke-width="0.9"/>
<text x="168.3" y="299.8" font-size="9.2" fill="#f0b820" font-style="italic" textLength="16.7" lengthAdjust="spacingAndGlyphs">fLuc</text>
<path d="M158.21 230.4 C158.21 232.09 161.2 231.78 161.2 233.47 C161.2 235.15 156.6 234.85 156.6 236.53 C156.6 238.22 161.2 237.91 161.2 239.6 C161.2 241.29 156.6 240.98 156.6 242.67 C156.6 244.35 161.2 244.05 161.2 245.73 C161.2 247.42 156.6 247.11 156.6 248.8 C156.6 250.49 161.2 250.18 161.2 251.87 C161.2 253.55 156.6 253.25 156.6 254.93 C156.6 256.62 161.2 256.31 161.2 258" stroke="#14846a" stroke-width="2.75" fill="none" stroke-linecap="round" stroke-linejoin="round"/>
<path d="M165.11 230.4 C165.11 232.09 168.1 231.78 168.1 233.47 C168.1 235.15 163.5 234.85 163.5 236.53 C163.5 238.22 168.1 237.91 168.1 239.6 C168.1 241.29 163.5 240.98 163.5 242.67 C163.5 244.35 168.1 244.05 168.1 245.73 C168.1 247.42 163.5 247.11 163.5 248.8 C163.5 250.49 168.1 250.18 168.1 251.87 C168.1 253.55 163.5 253.25 163.5 254.93 C163.5 256.62 168.1 256.31 168.1 258" stroke="#257a1e" stroke-width="2.75" fill="none" stroke-linecap="round" stroke-linejoin="round"/>
<path d="M157.21 262 C157.21 263.75 160.2 263.43 160.2 265.18 C160.2 266.93 155.6 266.61 155.6 268.36 C155.6 270.1 160.2 269.79 160.2 271.53 C160.2 273.28 155.6 272.96 155.6 274.71 C155.6 276.46 160.2 276.14 160.2 277.89 C160.2 279.64 155.6 279.32 155.6 281.07 C155.6 282.81 160.2 282.5 160.2 284.24 C160.2 285.99 155.6 285.67 155.6 287.42 C155.6 289.17 160.2 288.85 160.2 290.6" stroke="#2a2aa0" stroke-width="2.75" fill="none" stroke-linecap="round" stroke-linejoin="round"/>
<path d="M158.6 290.4 Q159.4 294 157.4 297.4" stroke="#555" stroke-width="0.8" fill="none"/>
<path d="M164.71 262.5 C164.71 264.22 167.7 263.9 167.7 265.62 C167.7 267.34 163.1 267.03 163.1 268.74 C163.1 270.46 167.7 270.15 167.7 271.87 C167.7 273.58 163.1 273.27 163.1 274.99 C163.1 276.71 167.7 276.39 167.7 278.11 C167.7 279.83 163.1 279.52 163.1 281.23 C163.1 282.95 167.7 282.64 167.7 284.36 C167.7 286.07 163.1 285.76 163.1 287.48 C163.1 289.19 167.7 288.88 167.7 290.6" stroke="#2a78dc" stroke-width="2.75" fill="none" stroke-linecap="round" stroke-linejoin="round"/>
<line x1="166" y1="230.4" x2="171.5" y2="226.5" stroke="#333" stroke-width="0.8"/>
<circle cx="174.7" cy="224.9" r="4" fill="#2fd3d8" stroke="none" stroke-width="1"/>
<line x1="165.8" y1="262.5" x2="170.5" y2="259.5" stroke="#333" stroke-width="0.8"/>
<circle cx="173.9" cy="257.7" r="4" fill="#f000e8" stroke="none" stroke-width="1"/>
<text x="54.6" y="371" font-size="10.2" fill="#000" font-weight="bold" textLength="14.6" lengthAdjust="spacingAndGlyphs">ON</text>
<text x="165.6" y="370.9" font-size="10.2" fill="#000" font-weight="bold" textLength="19.5" lengthAdjust="spacingAndGlyphs">OFF</text>
<line x1="68.1" y1="450.3" x2="81" y2="450.3" stroke="#222" stroke-width="1"/>
<rect x="33.8" y="445" width="36.3" height="9" fill="#cbcbcb" stroke="none" stroke-width="1"/>
<path d="M35.67 452.8 C35.87 456.6 38.78 457.1 40.44 455.2 C42.1 452.5 43.13 442.4 45.83 442.6 C47.7 442.8 48.73 443.8 48.94 445.8" stroke="#5a5a5a" stroke-width="2.7" fill="none" stroke-linecap="round"/>
<path d="M49.28 452.8 C49.49 456.6 52.39 457.1 54.05 455.2 C55.71 452.5 56.75 442.4 59.44 442.6 C61.31 442.8 62.35 443.8 62.55 445.8" stroke="#5a5a5a" stroke-width="2.7" fill="none" stroke-linecap="round"/>
<path d="M62.89 452.8 C63.1 456.6 66 457.1 67.66 455.2 C69.11 453.5 69.6 449 70.4 445.8" stroke="#5a5a5a" stroke-width="2.7" fill="none" stroke-linecap="round"/>
<polygon points="81,445 98.3,445 103.8,450.2 98.3,455.4 81,455.4" fill="#fde8ae" stroke="#f0c040" stroke-width="0.8"/>
<path d="M79.7 450 L79.7 444.1 L83.1 444.1" stroke="#111" stroke-width="0.9" fill="none"/>
<polygon points="84.7,444.1 82.9,442.7 82.9,445.5" fill="#111" stroke="none" stroke-width="1"/>
<polygon points="114.5,455.3 112.16,456.34 113.67,458.4 111.13,458.13 111.4,460.67 109.34,459.16 108.3,461.5 107.26,459.16 105.2,460.67 105.47,458.13 102.93,458.4 104.44,456.34 102.1,455.3 104.44,454.26 102.93,452.2 105.47,452.47 105.2,449.93 107.26,451.44 108.3,449.1 109.34,451.44 111.4,449.93 111.13,452.47 113.67,452.2 112.16,454.26" fill="#f8c20c" stroke="none" stroke-width="1"/>
<circle cx="108.3" cy="455.3" r="3.6" fill="#fdd94e" stroke="#f5b800" stroke-width="0.6"/>
<path d="M69.91 381.9 C69.91 383.68 72.9 383.35 72.9 385.13 C72.9 386.91 68.3 386.59 68.3 388.37 C68.3 390.14 72.9 389.82 72.9 391.6 C72.9 393.38 68.3 393.06 68.3 394.83 C68.3 396.61 72.9 396.29 72.9 398.07 C72.9 399.85 68.3 399.52 68.3 401.3 C68.3 403.08 72.9 402.76 72.9 404.53 C72.9 406.31 68.3 405.99 68.3 407.77 C68.3 409.55 72.9 409.22 72.9 411" stroke="#14846a" stroke-width="2.75" fill="none" stroke-linecap="round" stroke-linejoin="round"/>
<path d="M77.21 381.9 C77.21 383.68 80.2 383.35 80.2 385.13 C80.2 386.91 75.6 386.59 75.6 388.37 C75.6 390.14 80.2 389.82 80.2 391.6 C80.2 393.38 75.6 393.06 75.6 394.83 C75.6 396.61 80.2 396.29 80.2 398.07 C80.2 399.85 75.6 399.52 75.6 401.3 C75.6 403.08 80.2 402.76 80.2 404.53 C80.2 406.31 75.6 405.99 75.6 407.77 C75.6 409.55 80.2 409.22 80.2 411" stroke="#34b02a" stroke-width="2.75" fill="none" stroke-linecap="round" stroke-linejoin="round"/>
<path d="M69.41 413.8 C69.41 415.58 72.4 415.25 72.4 417.03 C72.4 418.81 67.8 418.49 67.8 420.27 C67.8 422.05 72.4 421.72 72.4 423.5 C72.4 425.28 67.8 424.96 67.8 426.73 C67.8 428.51 72.4 428.19 72.4 429.97 C72.4 431.75 67.8 431.42 67.8 433.2 C67.8 434.98 72.4 434.66 72.4 436.43 C72.4 438.21 67.8 437.89 67.8 439.67 C67.8 441.45 72.4 441.12 72.4 442.9" stroke="#2a2aa0" stroke-width="2.75" fill="none" stroke-linecap="round" stroke-linejoin="round"/>
<path d="M70.8 442.7 Q71.6 446.5 70.2 450.6" stroke="#555" stroke-width="0.8" fill="none"/>
<line x1="78.1" y1="381.9" x2="83.3" y2="378" stroke="#333" stroke-width="0.8"/>
<circle cx="86.5" cy="376.4" r="4" fill="#2fd3d8" stroke="none" stroke-width="1"/>
<text x="92.9" y="380.3" font-size="10.2" fill="#2fd3d8" textLength="20" lengthAdjust="spacingAndGlyphs">VP16</text>
<text x="54.6" y="400.1" font-size="10.2" fill="#14846a" textLength="10.1" lengthAdjust="spacingAndGlyphs">N8</text>
<text x="82" y="400.1" font-size="10.2" fill="#34b02a" textLength="16.4" lengthAdjust="spacingAndGlyphs">P7A</text>
<text x="54.6" y="431" font-size="10.2" fill="#2a2aa0" textLength="10.1" lengthAdjust="spacingAndGlyphs">N6</text>
<text x="34.6" y="441" font-size="10.2" fill="#222" textLength="28.2" lengthAdjust="spacingAndGlyphs">TALE-A</text>
<text x="26.7" y="466.6" font-size="7.6" textLength="27.4" lengthAdjust="spacingAndGlyphs">TALE-A10x</text>
<text x="54.3" y="465.5" font-size="10" textLength="6.6" lengthAdjust="spacingAndGlyphs">-P</text>
<text x="61.7" y="466.7" font-size="7.6" textLength="8.5" lengthAdjust="spacingAndGlyphs">min</text>
<text x="71.2" y="465.5" font-size="10" font-style="italic" textLength="18" lengthAdjust="spacingAndGlyphs">-fLuc</text>
<path d="M116.61 414.5 C116.61 416.3 119.6 415.98 119.6 417.78 C119.6 419.58 115 419.25 115 421.06 C115 422.86 119.6 422.53 119.6 424.33 C119.6 426.14 115 425.81 115 427.61 C115 429.41 119.6 429.09 119.6 430.89 C119.6 432.69 115 432.36 115 434.17 C115 435.97 119.6 435.64 119.6 437.44 C119.6 439.25 115 438.92 115 440.72 C115 442.52 119.6 442.2 119.6 444" stroke="#257a1e" stroke-width="2.75" fill="none" stroke-linecap="round" stroke-linejoin="round"/>
<text x="121.6" y="431.6" font-size="10.2" fill="#257a1e" textLength="11.6" lengthAdjust="spacingAndGlyphs">N7</text>
<text x="133.3" y="427" font-size="6.4" fill="#257a1e" textLength="9.2" lengthAdjust="spacingAndGlyphs">NLS</text>
<line x1="114.9" y1="450.2" x2="136.5" y2="450.2" stroke="#222" stroke-width="1"/>
<polygon points="140.5,450.2 135.5,448.2 135.5,452.2" fill="#222" stroke="none" stroke-width="1"/>
<line x1="177.4" y1="450.7" x2="189.9" y2="450.7" stroke="#222" stroke-width="1"/>
<rect x="143.7" y="445.6" width="35.7" height="9" fill="#cbcbcb" stroke="none" stroke-width="1"/>
<path d="M145.54 453.4 C145.74 457.2 148.6 457.7 150.23 455.8 C151.86 453.1 152.88 443 155.53 443.2 C157.37 443.4 158.39 444.4 158.59 446.4" stroke="#5a5a5a" stroke-width="2.7" fill="none" stroke-linecap="round"/>
<path d="M158.92 453.4 C159.13 457.2 161.98 457.7 163.62 455.8 C165.25 453.1 166.27 443 168.92 443.2 C170.76 443.4 171.78 444.4 171.98 446.4" stroke="#5a5a5a" stroke-width="2.7" fill="none" stroke-linecap="round"/>
<path d="M172.31 453.4 C172.52 457.2 175.37 457.7 177 455.8 C178.43 454.1 178.9 449.6 179.7 446.4" stroke="#5a5a5a" stroke-width="2.7" fill="none" stroke-linecap="round"/>
<polygon points="189.9,446 208.1,446 213.6,451.05 208.1,456.1 189.9,456.1" fill="#fffdf4" stroke="#f0c040" stroke-width="0.9"/>
<text x="191.4" y="454.1" font-size="9.2" fill="#f0b820" font-style="italic" textLength="17.2" lengthAdjust="spacingAndGlyphs">fLuc</text>
<path d="M181.51 384.2 C181.51 385.94 184.5 385.62 184.5 387.36 C184.5 389.09 179.9 388.78 179.9 390.51 C179.9 392.25 184.5 391.93 184.5 393.67 C184.5 395.4 179.9 395.09 179.9 396.82 C179.9 398.56 184.5 398.24 184.5 399.98 C184.5 401.71 179.9 401.4 179.9 403.13 C179.9 404.87 184.5 404.55 184.5 406.29 C184.5 408.02 179.9 407.71 179.9 409.44 C179.9 411.18 184.5 410.86 184.5 412.6" stroke="#14846a" stroke-width="2.75" fill="none" stroke-linecap="round" stroke-linejoin="round"/>
<path d="M189.41 384.2 C189.41 385.94 192.4 385.62 192.4 387.36 C192.4 389.09 187.8 388.78 187.8 390.51 C187.8 392.25 192.4 391.93 192.4 393.67 C192.4 395.4 187.8 395.09 187.8 396.82 C187.8 398.56 192.4 398.24 192.4 399.98 C192.4 401.71 187.8 401.4 187.8 403.13 C187.8 404.87 192.4 404.55 192.4 406.29 C192.4 408.02 187.8 407.71 187.8 409.44 C187.8 411.18 192.4 410.86 192.4 412.6" stroke="#257a1e" stroke-width="2.75" fill="none" stroke-linecap="round" stroke-linejoin="round"/>
<path d="M180.41 415.5 C180.41 417.3 183.4 416.97 183.4 418.77 C183.4 420.56 178.8 420.24 178.8 422.03 C178.8 423.83 183.4 423.5 183.4 425.3 C183.4 427.1 178.8 426.77 178.8 428.57 C178.8 430.36 183.4 430.04 183.4 431.83 C183.4 433.63 178.8 433.3 178.8 435.1 C178.8 436.9 183.4 436.57 183.4 438.37 C183.4 440.16 178.8 439.84 178.8 441.63 C178.8 443.43 183.4 443.1 183.4 444.9" stroke="#2a2aa0" stroke-width="2.75" fill="none" stroke-linecap="round" stroke-linejoin="round"/>
<path d="M181.8 444.7 Q182.4 448 180.6 451.0" stroke="#555" stroke-width="0.8" fill="none"/>
<path d="M202.01 408.8 C202.01 410.6 205 410.27 205 412.07 C205 413.86 200.4 413.54 200.4 415.33 C200.4 417.13 205 416.8 205 418.6 C205 420.4 200.4 420.07 200.4 421.87 C200.4 423.66 205 423.34 205 425.13 C205 426.93 200.4 426.6 200.4 428.4 C200.4 430.2 205 429.87 205 431.67 C205 433.46 200.4 433.14 200.4 434.93 C200.4 436.73 205 436.4 205 438.2" stroke="#34b02a" stroke-width="2.75" fill="none" stroke-linecap="round" stroke-linejoin="round"/>
<line x1="202.9" y1="408.8" x2="208" y2="405" stroke="#333" stroke-width="0.8"/>
<circle cx="211.1" cy="403.7" r="4" fill="#2fd3d8" stroke="none" stroke-width="1"/>
<text x="396.9" y="371.5" font-size="10.2" fill="#000" font-weight="bold" textLength="14.2" lengthAdjust="spacingAndGlyphs">ON</text>
<text x="487.1" y="371.5" font-size="10.2" fill="#000" font-weight="bold" textLength="19.5" lengthAdjust="spacingAndGlyphs">OFF</text>
<text x="602.4" y="371.5" font-size="10.2" fill="#000" font-weight="bold" textLength="14.5" lengthAdjust="spacingAndGlyphs">ON</text>
<line x1="399.6" y1="451.8" x2="413.1" y2="451.8" stroke="#222" stroke-width="1"/>
<rect x="366.1" y="446.6" width="35.5" height="9.2" fill="#cbcbcb" stroke="none" stroke-width="1"/>
<path d="M367.93 454.6 C368.13 458.4 370.97 458.9 372.59 457 C374.21 454.3 375.23 444 377.87 444.2 C379.69 444.4 380.71 445.4 380.91 447.4" stroke="#5a5a5a" stroke-width="2.7" fill="none" stroke-linecap="round"/>
<path d="M381.24 454.6 C381.44 458.4 384.28 458.9 385.9 457 C387.53 454.3 388.54 444 391.18 444.2 C393 444.4 394.02 445.4 394.22 447.4" stroke="#5a5a5a" stroke-width="2.7" fill="none" stroke-linecap="round"/>
<path d="M394.55 454.6 C394.75 458.4 397.59 458.9 399.22 457 C400.64 455.3 401.1 450.6 401.9 447.4" stroke="#5a5a5a" stroke-width="2.7" fill="none" stroke-linecap="round"/>
<polygon points="413.1,447 430,447 435.5,452 430,457 413.1,457" fill="#fde8ae" stroke="#f0c040" stroke-width="0.8"/>
<path d="M412.1 451.5 L412.1 445.6 L415.5 445.6" stroke="#111" stroke-width="0.9" fill="none"/>
<polygon points="417.1,445.6 415.3,444.2 415.3,447" fill="#111" stroke="none" stroke-width="1"/>
<polygon points="447.2,457.8 444.86,458.84 446.37,460.9 443.83,460.63 444.1,463.17 442.04,461.66 441,464 439.96,461.66 437.9,463.17 438.17,460.63 435.63,460.9 437.14,458.84 434.8,457.8 437.14,456.76 435.63,454.7 438.17,454.97 437.9,452.43 439.96,453.94 441,451.6 442.04,453.94 444.1,452.43 443.83,454.97 446.37,454.7 444.86,456.76" fill="#f8c20c" stroke="none" stroke-width="1"/>
<circle cx="441" cy="457.8" r="3.6" fill="#fdd94e" stroke="#f5b800" stroke-width="0.6"/>
<path d="M401.81 383.7 C401.81 385.48 404.8 385.15 404.8 386.93 C404.8 388.71 400.2 388.39 400.2 390.17 C400.2 391.94 404.8 391.62 404.8 393.4 C404.8 395.18 400.2 394.86 400.2 396.63 C400.2 398.41 404.8 398.09 404.8 399.87 C404.8 401.65 400.2 401.32 400.2 403.1 C400.2 404.88 404.8 404.56 404.8 406.33 C404.8 408.11 400.2 407.79 400.2 409.57 C400.2 411.35 404.8 411.02 404.8 412.8" stroke="#14846a" stroke-width="2.75" fill="none" stroke-linecap="round" stroke-linejoin="round"/>
<path d="M409.91 383.7 C409.91 385.48 412.9 385.15 412.9 386.93 C412.9 388.71 408.3 388.39 408.3 390.17 C408.3 391.94 412.9 391.62 412.9 393.4 C412.9 395.18 408.3 394.86 408.3 396.63 C408.3 398.41 412.9 398.09 412.9 399.87 C412.9 401.65 408.3 401.32 408.3 403.1 C408.3 404.88 412.9 404.56 412.9 406.33 C412.9 408.11 408.3 407.79 408.3 409.57 C408.3 411.35 412.9 411.02 412.9 412.8" stroke="#34b02a" stroke-width="2.75" fill="none" stroke-linecap="round" stroke-linejoin="round"/>
<path d="M401.31 415.6 C401.31 417.38 404.3 417.06 404.3 418.83 C404.3 420.61 399.7 420.29 399.7 422.07 C399.7 423.85 404.3 423.52 404.3 425.3 C404.3 427.08 399.7 426.76 399.7 428.53 C399.7 430.31 404.3 429.99 404.3 431.77 C404.3 433.55 399.7 433.22 399.7 435 C399.7 436.78 404.3 436.46 404.3 438.23 C404.3 440.01 399.7 439.69 399.7 441.47 C399.7 443.25 404.3 442.92 404.3 444.7" stroke="#2a2aa0" stroke-width="2.75" fill="none" stroke-linecap="round" stroke-linejoin="round"/>
<path d="M402.7 444.5 Q403.4 448.5 402.0 452.4" stroke="#555" stroke-width="0.8" fill="none"/>
<line x1="410.8" y1="383.7" x2="416" y2="379.5" stroke="#333" stroke-width="0.8"/>
<circle cx="419.1" cy="377.9" r="4" fill="#2fd3d8" stroke="none" stroke-width="1"/>
<text x="424.6" y="381.9" font-size="10.2" fill="#2fd3d8" textLength="20" lengthAdjust="spacingAndGlyphs">VP16</text>
<text x="387" y="402.8" font-size="10.2" fill="#14846a" textLength="10.4" lengthAdjust="spacingAndGlyphs">N8</text>
<text x="414.6" y="401.9" font-size="10.2" fill="#34b02a" textLength="15.4" lengthAdjust="spacingAndGlyphs">P7A</text>
<text x="386.5" y="432.9" font-size="10.2" fill="#2a2aa0" textLength="10" lengthAdjust="spacingAndGlyphs">N6</text>
<text x="367.4" y="442.9" font-size="10.2" fill="#222" textLength="27.6" lengthAdjust="spacingAndGlyphs">TALE-A</text>
<text x="358.6" y="468.4" font-size="7.6" textLength="27.4" lengthAdjust="spacingAndGlyphs">TALE-A10x</text>
<text x="386.2" y="467.3" font-size="10" textLength="6.6" lengthAdjust="spacingAndGlyphs">-P</text>
<text x="393.6" y="468.5" font-size="7.6" textLength="8.5" lengthAdjust="spacingAndGlyphs">min</text>
<text x="403.1" y="467.3" font-size="10" font-style="italic" textLength="18" lengthAdjust="spacingAndGlyphs">-fLuc</text>
<path d="M450.01 420.1 C450.01 421.88 453 421.56 453 423.34 C453 425.13 448.4 424.8 448.4 426.59 C448.4 428.37 453 428.05 453 429.83 C453 431.62 448.4 431.29 448.4 433.08 C448.4 434.86 453 434.54 453 436.32 C453 438.11 448.4 437.78 448.4 439.57 C448.4 441.35 453 441.03 453 442.81 C453 444.6 448.4 444.27 448.4 446.06 C448.4 447.84 453 447.52 453 449.3" stroke="#2a78dc" stroke-width="2.75" fill="none" stroke-linecap="round" stroke-linejoin="round"/>
<line x1="451" y1="420.1" x2="455.5" y2="417" stroke="#333" stroke-width="0.8"/>
<circle cx="459.2" cy="415" r="4" fill="#f000e8" stroke="none" stroke-width="1"/>
<text x="464.1" y="418.9" font-size="10.2" fill="#f000e8" textLength="21.9" lengthAdjust="spacingAndGlyphs">KRAB</text>
<text x="454.6" y="438.9" font-size="10.2" fill="#2a78dc" textLength="10.1" lengthAdjust="spacingAndGlyphs">P5</text>
<line x1="447.7" y1="452" x2="468.5" y2="452" stroke="#222" stroke-width="1"/>
<polygon points="472.5,452 467.5,450 467.5,454" fill="#222" stroke="none" stroke-width="1"/>
<line x1="509.6" y1="452.2" x2="522.2" y2="452.2" stroke="#222" stroke-width="1"/>
<rect x="475.2" y="446.6" width="36.4" height="9.2" fill="#cbcbcb" stroke="none" stroke-width="1"/>
<path d="M477.07 454.6 C477.28 458.4 480.19 458.9 481.86 457 C483.52 454.3 484.56 444 487.26 444.2 C489.14 444.4 490.18 445.4 490.38 447.4" stroke="#5a5a5a" stroke-width="2.7" fill="none" stroke-linecap="round"/>
<path d="M490.72 454.6 C490.93 458.4 493.84 458.9 495.51 457 C497.17 454.3 498.21 444 500.91 444.2 C502.79 444.4 503.83 445.4 504.03 447.4" stroke="#5a5a5a" stroke-width="2.7" fill="none" stroke-linecap="round"/>
<path d="M504.37 454.6 C504.58 458.4 507.49 458.9 509.16 457 C510.61 455.3 511.1 450.6 511.9 447.4" stroke="#5a5a5a" stroke-width="2.7" fill="none" stroke-linecap="round"/>
<polygon points="522.2,447.6 539.7,447.6 545.2,452.5 539.7,457.4 522.2,457.4" fill="#fffdf4" stroke="#f0c040" stroke-width="0.9"/>
<text x="523.7" y="455.4" font-size="9.2" fill="#f0b820" font-style="italic" textLength="16.5" lengthAdjust="spacingAndGlyphs">fLuc</text>
<path d="M513.01 384.6 C513.01 386.32 516 386.01 516 387.73 C516 389.46 511.4 389.14 511.4 390.87 C511.4 392.59 516 392.28 516 394 C516 395.72 511.4 395.41 511.4 397.13 C511.4 398.86 516 398.54 516 400.27 C516 401.99 511.4 401.68 511.4 403.4 C511.4 405.12 516 404.81 516 406.53 C516 408.26 511.4 407.94 511.4 409.67 C511.4 411.39 516 411.08 516 412.8" stroke="#14846a" stroke-width="2.75" fill="none" stroke-linecap="round" stroke-linejoin="round"/>
<path d="M520.11 384.6 C520.11 386.32 523.1 386.01 523.1 387.73 C523.1 389.46 518.5 389.14 518.5 390.87 C518.5 392.59 523.1 392.28 523.1 394 C523.1 395.72 518.5 395.41 518.5 397.13 C518.5 398.86 523.1 398.54 523.1 400.27 C523.1 401.99 518.5 401.68 518.5 403.4 C518.5 405.12 523.1 404.81 523.1 406.53 C523.1 408.26 518.5 407.94 518.5 409.67 C518.5 411.39 523.1 411.08 523.1 412.8" stroke="#34b02a" stroke-width="2.75" fill="none" stroke-linecap="round" stroke-linejoin="round"/>
<path d="M512.31 416.5 C512.31 418.28 515.3 417.95 515.3 419.73 C515.3 421.51 510.7 421.19 510.7 422.97 C510.7 424.75 515.3 424.42 515.3 426.2 C515.3 427.98 510.7 427.66 510.7 429.43 C510.7 431.21 515.3 430.89 515.3 432.67 C515.3 434.45 510.7 434.12 510.7 435.9 C510.7 437.68 515.3 437.36 515.3 439.13 C515.3 440.91 510.7 440.59 510.7 442.37 C510.7 444.15 515.3 443.82 515.3 445.6" stroke="#2a2aa0" stroke-width="2.75" fill="none" stroke-linecap="round" stroke-linejoin="round"/>
<path d="M513.7 445.4 Q514.2 449 512.2 452.4" stroke="#555" stroke-width="0.8" fill="none"/>
<path d="M519.61 417 C519.61 418.75 522.6 418.43 522.6 420.18 C522.6 421.93 518 421.61 518 423.36 C518 425.1 522.6 424.79 522.6 426.53 C522.6 428.28 518 427.96 518 429.71 C518 431.46 522.6 431.14 522.6 432.89 C522.6 434.64 518 434.32 518 436.07 C518 437.81 522.6 437.5 522.6 439.24 C522.6 440.99 518 440.67 518 442.42 C518 444.17 522.6 443.85 522.6 445.6" stroke="#2a78dc" stroke-width="2.75" fill="none" stroke-linecap="round" stroke-linejoin="round"/>
<line x1="521" y1="384.6" x2="526.5" y2="381" stroke="#333" stroke-width="0.8"/>
<circle cx="529.5" cy="379.5" r="4" fill="#2fd3d8" stroke="none" stroke-width="1"/>
<line x1="520.6" y1="417" x2="525.5" y2="414" stroke="#333" stroke-width="0.8"/>
<circle cx="528.6" cy="412.5" r="4" fill="#f000e8" stroke="none" stroke-width="1"/>
<path d="M555.31 420 C555.31 421.79 558.3 421.46 558.3 423.26 C558.3 425.05 553.7 424.72 553.7 426.51 C553.7 428.3 558.3 427.98 558.3 429.77 C558.3 431.56 553.7 431.23 553.7 433.02 C553.7 434.81 558.3 434.49 558.3 436.28 C558.3 438.07 553.7 437.74 553.7 439.53 C553.7 441.32 558.3 441 558.3 442.79 C558.3 444.58 553.7 444.25 553.7 446.04 C553.7 447.83 558.3 447.51 558.3 449.3" stroke="#17478a" stroke-width="2.75" fill="none" stroke-linecap="round" stroke-linejoin="round"/>
<text x="560" y="438.9" font-size="10.2" fill="#17478a" textLength="11" lengthAdjust="spacingAndGlyphs">N5</text>
<text x="571" y="434" font-size="6.4" fill="#17478a" textLength="10" lengthAdjust="spacingAndGlyphs">NLS</text>
<line x1="548.3" y1="452.4" x2="570" y2="452.4" stroke="#222" stroke-width="1"/>
<polygon points="574,452.4 569,450.4 569,454.4" fill="#222" stroke="none" stroke-width="1"/>
<line x1="610.2" y1="452" x2="622.9" y2="452" stroke="#222" stroke-width="1"/>
<rect x="576.8" y="446.6" width="35.4" height="9.2" fill="#cbcbcb" stroke="none" stroke-width="1"/>
<path d="M578.62 454.6 C578.82 458.4 581.65 458.9 583.27 457 C584.89 454.3 585.9 444 588.53 444.2 C590.35 444.4 591.36 445.4 591.57 447.4" stroke="#5a5a5a" stroke-width="2.7" fill="none" stroke-linecap="round"/>
<path d="M591.9 454.6 C592.1 458.4 594.93 458.9 596.55 457 C598.17 454.3 599.18 444 601.81 444.2 C603.63 444.4 604.64 445.4 604.84 447.4" stroke="#5a5a5a" stroke-width="2.7" fill="none" stroke-linecap="round"/>
<path d="M605.17 454.6 C605.37 458.4 608.2 458.9 609.82 457 C611.24 455.3 611.7 450.6 612.5 447.4" stroke="#5a5a5a" stroke-width="2.7" fill="none" stroke-linecap="round"/>
<polygon points="622.9,446.6 640.5,446.6 646,451.6 640.5,456.6 622.9,456.6" fill="#fde8ae" stroke="#f0c040" stroke-width="0.8"/>
<path d="M621.6 451.7 L621.6 445.8 L625 445.8" stroke="#111" stroke-width="0.9" fill="none"/>
<polygon points="626.6,445.8 624.8,444.4 624.8,447.2" fill="#111" stroke="none" stroke-width="1"/>
<polygon points="656.4,457.1 654.06,458.14 655.57,460.2 653.03,459.93 653.3,462.47 651.24,460.96 650.2,463.3 649.16,460.96 647.1,462.47 647.37,459.93 644.83,460.2 646.34,458.14 644,457.1 646.34,456.06 644.83,454 647.37,454.27 647.1,451.73 649.16,453.24 650.2,450.9 651.24,453.24 653.3,451.73 653.03,454.27 655.57,454 654.06,456.06" fill="#f8c20c" stroke="none" stroke-width="1"/>
<circle cx="650.2" cy="457.1" r="3.6" fill="#fdd94e" stroke="#f5b800" stroke-width="0.6"/>
<path d="M612.11 382.8 C612.11 384.63 615.1 384.3 615.1 386.13 C615.1 387.97 610.5 387.63 610.5 389.47 C610.5 391.3 615.1 390.97 615.1 392.8 C615.1 394.63 610.5 394.3 610.5 396.13 C610.5 397.97 615.1 397.63 615.1 399.47 C615.1 401.3 610.5 400.97 610.5 402.8 C610.5 404.63 615.1 404.3 615.1 406.13 C615.1 407.97 610.5 407.63 610.5 409.47 C610.5 411.3 615.1 410.97 615.1 412.8" stroke="#14846a" stroke-width="2.75" fill="none" stroke-linecap="round" stroke-linejoin="round"/>
<path d="M619.81 382.8 C619.81 384.63 622.8 384.3 622.8 386.13 C622.8 387.97 618.2 387.63 618.2 389.47 C618.2 391.3 622.8 390.97 622.8 392.8 C622.8 394.63 618.2 394.3 618.2 396.13 C618.2 397.97 622.8 397.63 622.8 399.47 C622.8 401.3 618.2 400.97 618.2 402.8 C618.2 404.63 622.8 404.3 622.8 406.13 C622.8 407.97 618.2 407.63 618.2 409.47 C618.2 411.3 622.8 410.97 622.8 412.8" stroke="#34b02a" stroke-width="2.75" fill="none" stroke-linecap="round" stroke-linejoin="round"/>
<path d="M611.21 415.6 C611.21 417.38 614.2 417.06 614.2 418.83 C614.2 420.61 609.6 420.29 609.6 422.07 C609.6 423.85 614.2 423.52 614.2 425.3 C614.2 427.08 609.6 426.76 609.6 428.53 C609.6 430.31 614.2 429.99 614.2 431.77 C614.2 433.55 609.6 433.22 609.6 435 C609.6 436.78 614.2 436.46 614.2 438.23 C614.2 440.01 609.6 439.69 609.6 441.47 C609.6 443.25 614.2 442.92 614.2 444.7" stroke="#2a2aa0" stroke-width="2.75" fill="none" stroke-linecap="round" stroke-linejoin="round"/>
<path d="M612.6 444.5 Q613.2 448.5 612.2 452.4" stroke="#555" stroke-width="0.8" fill="none"/>
<path d="M618.61 415.6 C618.61 417.38 621.6 417.06 621.6 418.83 C621.6 420.61 617 420.29 617 422.07 C617 423.85 621.6 423.52 621.6 425.3 C621.6 427.08 617 426.76 617 428.53 C617 430.31 621.6 429.99 621.6 431.77 C621.6 433.55 617 433.22 617 435 C617 436.78 621.6 436.46 621.6 438.23 C621.6 440.01 617 439.69 617 441.47 C617 443.25 621.6 442.92 621.6 444.7" stroke="#17478a" stroke-width="2.75" fill="none" stroke-linecap="round" stroke-linejoin="round"/>
<line x1="620.7" y1="382.8" x2="625.5" y2="379.5" stroke="#333" stroke-width="0.8"/>
<circle cx="628.7" cy="377.7" r="4" fill="#2fd3d8" stroke="none" stroke-width="1"/>
<path d="M637.41 405.6 C637.41 407.38 640.4 407.06 640.4 408.83 C640.4 410.61 635.8 410.29 635.8 412.07 C635.8 413.85 640.4 413.52 640.4 415.3 C640.4 417.08 635.8 416.76 635.8 418.53 C635.8 420.31 640.4 419.99 640.4 421.77 C640.4 423.55 635.8 423.22 635.8 425 C635.8 426.78 640.4 426.46 640.4 428.23 C640.4 430.01 635.8 429.69 635.8 431.47 C635.8 433.25 640.4 432.92 640.4 434.7" stroke="#2a78dc" stroke-width="2.75" fill="none" stroke-linecap="round" stroke-linejoin="round"/>
<line x1="638.3" y1="405.6" x2="643.5" y2="402.5" stroke="#333" stroke-width="0.8"/>
<circle cx="646.6" cy="400.5" r="4" fill="#f000e8" stroke="none" stroke-width="1"/>
</svg>
</body></html>
